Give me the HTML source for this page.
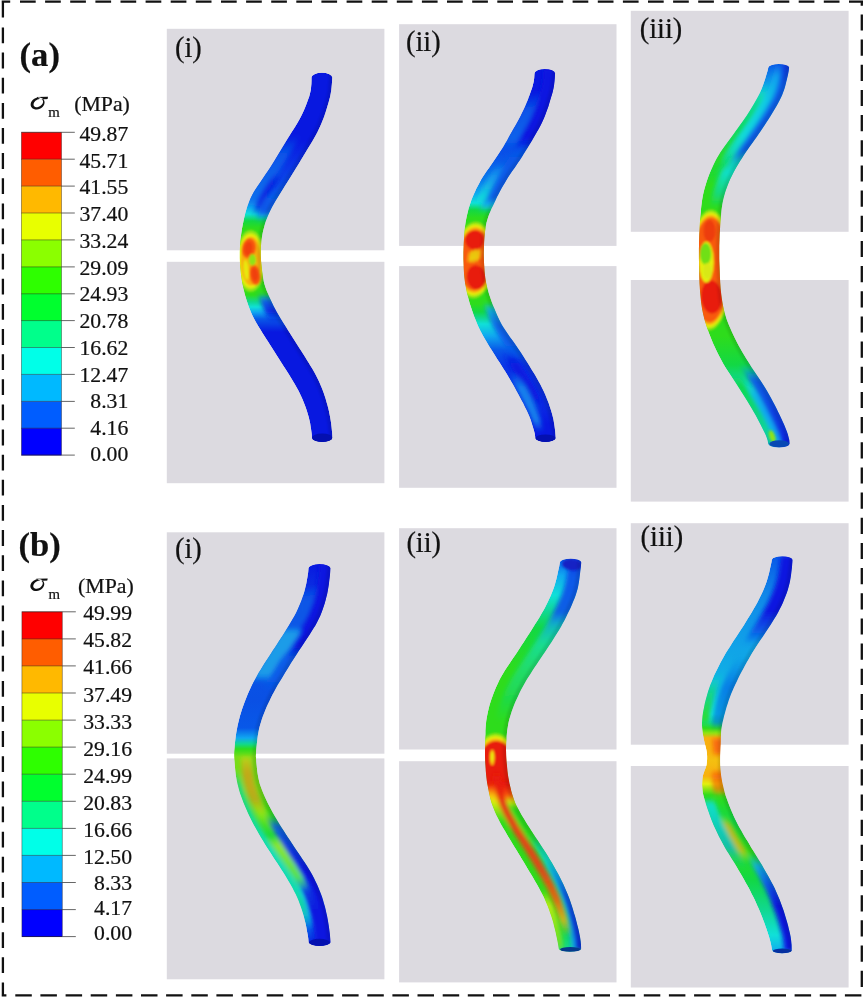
<!DOCTYPE html>
<html><head><meta charset="utf-8"><title>figure</title>
<style>html,body{margin:0;padding:0;background:#fff}svg{display:block}.s{font-family:"Liberation Serif",serif;fill:#111;stroke:#111;stroke-width:.22px}</style></head><body>
<svg width="866" height="997" viewBox="0 0 866 997">
<defs><filter id="bl" x="-20%" y="-5%" width="140%" height="110%"><feGaussianBlur stdDeviation="1.2"/></filter><filter id="bl2" x="-20%" y="-5%" width="140%" height="110%"><feGaussianBlur stdDeviation="2"/></filter>
<clipPath id="c_ai"><path d="M311.5 77.4 L311.5 80.5 L311.4 83.8 L311.1 87.1 L310.8 90 L310.1 93.1 L309.3 96.2 L308.3 99.1 L307.2 102 L306.1 105 L304.9 108 L303.6 111 L302.2 114 L300.7 117 L299.1 120 L297.4 123 L295.6 126 L293.7 129 L291.7 132 L289.9 135 L288 138 L286.2 141 L284.4 144 L282.6 147 L280.8 150 L279 153 L277.2 156 L275.4 159 L273.6 162 L271.7 165 L269.8 168 L267.8 171 L265.7 174 L263.7 177 L261.7 180 L259.7 183 L257.6 186 L255.6 189 L253.7 192 L252.1 195 L250.6 198 L249.4 201 L248.2 204 L247.1 207 L246.2 210 L245.3 213 L244.6 216 L243.9 219 L243.3 222 L242.7 225 L242.1 228 L241.6 231 L241.2 234 L240.8 237 L240.5 240 L240.2 243 L240 246 L239.9 249 L239.8 252 L239.8 255 L239.8 258 L239.9 261 L240 264 L240.2 267 L240.5 270 L240.8 273 L241.2 276 L241.6 279 L242.1 282 L242.7 285 L243.3 288 L244 291 L244.7 294 L245.6 297 L246.5 300 L247.5 303 L248.5 306 L249.7 309 L250.9 312 L252.2 315 L253.7 318 L255.3 321 L257 324 L258.8 327 L260.7 330 L262.5 333 L264.4 336 L266.3 339 L268.3 342 L270.2 345 L272.1 348 L274 351 L275.9 354 L277.8 357 L279.7 360 L281.6 363 L283.5 366 L285.5 369 L287.4 372 L289.3 375 L291.1 378 L292.9 381 L294.7 384 L296.4 387 L298.1 390 L299.6 393 L301 396 L302.4 399 L303.6 402 L304.8 405 L305.9 408 L306.9 411 L307.8 414 L308.7 417 L309.4 420 L310.1 423.1 L310.6 426.4 L311.1 429.6 L311.5 432.5 L311.8 435 L311.9 437.7 A10.2 4.3 0 0 0 332.4 437.7 L332.3 435 L332.1 432.5 L331.8 429.6 L331.5 426.4 L331.1 423.1 L330.6 420 L330.1 417 L329.5 414 L328.9 411 L328.2 408 L327.4 405 L326.5 402 L325.7 399 L324.7 396 L323.7 393 L322.6 390 L321.4 387 L320.1 384 L318.8 381 L317.3 378 L315.8 375 L314.2 372 L312.5 369 L310.6 366 L308.8 363 L306.9 360 L305.1 357 L303.2 354 L301.3 351 L299.3 348 L297.4 345 L295.5 342 L293.6 339 L291.7 336 L289.8 333 L287.9 330 L286.1 327 L284.2 324 L282.3 321 L280.4 318 L278.6 315 L276.8 312 L275.2 309 L273.6 306 L272.2 303 L270.8 300 L269.4 297 L268.1 294 L266.8 291 L265.7 288 L264.7 285 L263.9 282 L263.3 279 L262.8 276 L262.4 273 L262 270 L261.7 267 L261.4 264 L261.1 261 L260.9 258 L260.8 255 L260.8 252 L260.8 249 L261 246 L261.2 243 L261.5 240 L262 237 L262.5 234 L263.1 231 L263.9 228 L264.7 225 L265.6 222 L266.7 219 L267.9 216 L269.2 213 L270.6 210 L272.1 207 L273.8 204 L275.5 201 L277.4 198 L279.3 195 L281.2 192 L283.1 189 L284.9 186 L286.8 183 L288.7 180 L290.6 177 L292.4 174 L294.3 171 L296.1 168 L298 165 L299.8 162 L301.6 159 L303.4 156 L305.2 153 L307 150 L308.8 147 L310.7 144 L312.5 141 L314.2 138 L315.9 135 L317.5 132 L318.9 129 L320.3 126 L321.6 123 L322.8 120 L324 117 L325 114 L326 111 L326.9 108 L327.8 105 L328.7 102 L329.5 99.1 L330.2 96.2 L330.8 93.1 L331.3 90 L331.6 87.1 L331.9 83.8 L332.1 80.5 L332.3 77.4 A10.4 4.6 0 0 0 311.5 77.4 Z"/></clipPath>
<linearGradient id="g1" gradientUnits="userSpaceOnUse" x1="0" y1="72.8" x2="0" y2="442"><stop offset="0.0000" stop-color="#0818e0"/><stop offset="0.1820" stop-color="#0818e0"/><stop offset="0.2497" stop-color="#0a34e6"/><stop offset="0.3310" stop-color="#0858e8"/><stop offset="0.3635" stop-color="#10a8f0"/><stop offset="0.3824" stop-color="#10e0d8"/><stop offset="0.4014" stop-color="#12d844"/><stop offset="0.4204" stop-color="#2edc1c"/><stop offset="0.6018" stop-color="#2edc1c"/><stop offset="0.6208" stop-color="#10d890"/><stop offset="0.6343" stop-color="#10e0d8"/><stop offset="0.6479" stop-color="#10a8f0"/><stop offset="0.6668" stop-color="#0858e8"/><stop offset="0.7021" stop-color="#0818e0"/><stop offset="1.0000" stop-color="#0818e0"/></linearGradient>
<linearGradient id="g2" gradientUnits="userSpaceOnUse" x1="0" y1="135" x2="0" y2="210"><stop offset="0.0000" stop-color="#0858e8" stop-opacity="0"/><stop offset="0.2667" stop-color="#0858e8" stop-opacity="0.95"/><stop offset="0.8667" stop-color="#0a70ec" stop-opacity="0.95"/><stop offset="1.0000" stop-color="#10a8f0" stop-opacity="0"/></linearGradient>
<linearGradient id="g3" gradientUnits="userSpaceOnUse" x1="0" y1="172" x2="0" y2="216"><stop offset="0.0000" stop-color="#0818e0" stop-opacity="0"/><stop offset="0.2273" stop-color="#0818e0" stop-opacity="0.8"/><stop offset="0.7727" stop-color="#0818e0" stop-opacity="0.8"/><stop offset="1.0000" stop-color="#0818e0" stop-opacity="0"/></linearGradient>
<linearGradient id="g4" gradientUnits="userSpaceOnUse" x1="0" y1="192" x2="0" y2="222"><stop offset="0.0000" stop-color="#0858e8" stop-opacity="0"/><stop offset="0.2667" stop-color="#0858e8"/><stop offset="0.6667" stop-color="#0858e8"/><stop offset="1.0000" stop-color="#10a8f0" stop-opacity="0"/></linearGradient>
<linearGradient id="g5" gradientUnits="userSpaceOnUse" x1="0" y1="292" x2="0" y2="322"><stop offset="0.0000" stop-color="#10a8f0" stop-opacity="0"/><stop offset="0.3000" stop-color="#0858e8" stop-opacity="0.95"/><stop offset="0.6667" stop-color="#0818e0" stop-opacity="0.95"/><stop offset="1.0000" stop-color="#0818e0" stop-opacity="0"/></linearGradient>
<clipPath id="c_aii"><path d="M534.5 73.4 L534.4 74.8 L534.2 78 L533.7 81.6 L532.9 85 L531.9 88.4 L530.6 92 L529.8 94.5 L528.8 97.1 L527.8 100 L526.5 103.1 L525.1 106.4 L523.5 110 L522 113.1 L520.3 116.4 L518.6 119.8 L516.8 123 L515.1 126.1 L513.3 129.1 L511.6 132.1 L509.9 135 L508.4 137.8 L507 140.4 L505.4 143.1 L503.7 146 L502.1 148.5 L500.4 151.1 L498.6 153.8 L496.6 156.8 L494.4 160 L492.7 162.5 L490.8 165.3 L488.8 168.2 L486.7 171.1 L484.7 174.1 L482.7 177.1 L480.9 180 L479.4 182.9 L477.9 185.7 L476.4 188.6 L475.1 191.4 L473.8 194.3 L472.6 197.1 L471.4 200 L470.4 202.9 L469.5 205.7 L468.6 208.6 L467.9 211.4 L467.2 214.3 L466.6 217.1 L466 220 L465.5 222.8 L465.1 225.7 L464.8 228.5 L464.5 231.3 L464.3 234.1 L464.1 237 L463.9 240 L463.7 243 L463.6 246.1 L463.5 249.3 L463.4 252.5 L463.4 255.7 L463.4 258.8 L463.5 262 L463.6 265.1 L463.7 268.3 L463.9 271.4 L464.1 274.6 L464.4 277.7 L464.8 280.9 L465.2 284 L465.8 287.1 L466.4 290.3 L467.1 293.4 L467.9 296.6 L468.7 299.7 L469.6 302.9 L470.6 306 L471.6 309.1 L472.7 312.3 L473.8 315.4 L475 318.6 L476.3 321.7 L477.6 324.9 L479 328 L480.5 331.1 L482.2 334.3 L484 337.4 L485.8 340.6 L487.7 343.7 L489.6 346.9 L491.6 350 L493.5 353.1 L495.5 356.3 L497.5 359.4 L499.6 362.6 L501.6 365.7 L503.6 368.9 L505.6 372 L507.4 375.1 L509.3 378.3 L511.2 381.4 L513 384.6 L514.8 387.7 L516.5 390.9 L518.2 394 L519.9 397.2 L521.6 400.4 L523.3 403.6 L524.9 406.9 L526.5 410 L527.9 413.1 L529.2 416 L530.5 419.3 L531.6 422.7 L532.6 425.9 L533.5 428.9 L534.2 431.6 L534.8 434 L535.3 438 A10.2 4 0 0 0 555.7 438 L555.4 434 L555.2 431.6 L554.9 428.9 L554.5 425.9 L554 422.7 L553.4 419.3 L552.6 416 L551.8 413.1 L550.9 410 L549.9 406.9 L548.8 403.6 L547.6 400.4 L546.3 397.2 L545 394 L543.6 390.9 L542 387.7 L540.4 384.6 L538.7 381.4 L536.9 378.3 L535.1 375.1 L533.2 372 L531.3 368.9 L529.4 365.7 L527.4 362.6 L525.4 359.4 L523.4 356.3 L521.3 353.1 L519.2 350 L517.1 346.9 L514.9 343.7 L512.6 340.6 L510.3 337.4 L508.1 334.3 L505.9 331.1 L503.9 328 L502 324.9 L500.3 321.7 L498.7 318.6 L497.3 315.4 L495.9 312.3 L494.6 309.1 L493.3 306 L492.1 302.9 L491 299.7 L489.9 296.6 L488.9 293.4 L488 290.3 L487.1 287.1 L486.4 284 L485.8 280.9 L485.3 277.7 L484.9 274.6 L484.6 271.4 L484.4 268.3 L484.2 265.1 L484 262 L483.9 258.8 L483.8 255.7 L483.8 252.5 L483.9 249.3 L484 246.1 L484.1 243 L484.3 240 L484.5 237 L484.8 234.1 L485.1 231.3 L485.5 228.5 L485.9 225.7 L486.5 222.8 L487.3 220 L488.2 217.1 L489.2 214.3 L490.4 211.4 L491.6 208.6 L493 205.7 L494.3 202.9 L495.7 200 L497 197.1 L498.5 194.3 L499.9 191.4 L501.5 188.6 L503.1 185.7 L504.8 182.9 L506.5 180 L508.3 177.1 L510.3 174.1 L512.3 171.1 L514.4 168.2 L516.4 165.3 L518.2 162.5 L520 160 L522.1 156.8 L523.9 153.8 L525.7 151.1 L527.3 148.5 L528.8 146 L530.6 143.1 L532.1 140.4 L533.6 137.8 L535.2 135 L536.9 132.1 L538.7 129.1 L540.3 126.1 L541.8 123 L543.3 119.8 L544.7 116.4 L546 113.1 L547.1 110 L548.4 106.4 L549.4 103.1 L550.3 100 L551.2 97.1 L552 94.5 L552.7 92 L553.5 88.4 L554.1 85 L554.5 81.6 L554.8 78 L555 74.8 L555.1 73.4 A10.3 4.4 0 0 0 534.5 73.4 Z"/></clipPath>
<linearGradient id="g6" gradientUnits="userSpaceOnUse" x1="0" y1="69" x2="0" y2="442"><stop offset="0.0000" stop-color="#0818e0"/><stop offset="0.1153" stop-color="#0818e0"/><stop offset="0.1769" stop-color="#0a3ce6"/><stop offset="0.2440" stop-color="#0858e8"/><stop offset="0.2976" stop-color="#0a78ec"/><stop offset="0.3351" stop-color="#10a8f0"/><stop offset="0.3592" stop-color="#10e0d8"/><stop offset="0.3780" stop-color="#12d844"/><stop offset="0.3995" stop-color="#2edc1c"/><stop offset="0.6300" stop-color="#2edc1c"/><stop offset="0.6515" stop-color="#12d844"/><stop offset="0.6676" stop-color="#10d890"/><stop offset="0.6836" stop-color="#10e0d8"/><stop offset="0.7158" stop-color="#10a8f0"/><stop offset="0.7534" stop-color="#0858e8"/><stop offset="0.7962" stop-color="#0a34e6"/><stop offset="0.9008" stop-color="#0a2ce4"/><stop offset="0.9517" stop-color="#0818e0"/><stop offset="1.0000" stop-color="#0818e0"/></linearGradient>
<linearGradient id="g7" gradientUnits="userSpaceOnUse" x1="0" y1="69" x2="0" y2="150"><stop offset="0.0000" stop-color="#0818e0"/><stop offset="0.8519" stop-color="#0818e0"/><stop offset="1.0000" stop-color="#0818e0" stop-opacity="0"/></linearGradient>
<linearGradient id="g8" gradientUnits="userSpaceOnUse" x1="0" y1="92" x2="0" y2="152"><stop offset="0.0000" stop-color="#0858e8" stop-opacity="0"/><stop offset="0.3000" stop-color="#0858e8" stop-opacity="0.95"/><stop offset="0.8000" stop-color="#0a64ea" stop-opacity="0.95"/><stop offset="1.0000" stop-color="#0858e8" stop-opacity="0"/></linearGradient>
<linearGradient id="g9" gradientUnits="userSpaceOnUse" x1="0" y1="146" x2="0" y2="214"><stop offset="0.0000" stop-color="#0858e8" stop-opacity="0"/><stop offset="0.1765" stop-color="#0858e8" stop-opacity="0.9"/><stop offset="0.7647" stop-color="#0858e8" stop-opacity="0.9"/><stop offset="0.8824" stop-color="#10a8f0" stop-opacity="0.7"/><stop offset="1.0000" stop-color="#10e0d8" stop-opacity="0"/></linearGradient>
<linearGradient id="g10" gradientUnits="userSpaceOnUse" x1="0" y1="164" x2="0" y2="206"><stop offset="0.0000" stop-color="#10a8f0" stop-opacity="0"/><stop offset="0.3333" stop-color="#18a0ee" stop-opacity="0.85"/><stop offset="0.8095" stop-color="#10e0d8" stop-opacity="0.85"/><stop offset="1.0000" stop-color="#10e0d8" stop-opacity="0"/></linearGradient>
<linearGradient id="g11" gradientUnits="userSpaceOnUse" x1="0" y1="300" x2="0" y2="358"><stop offset="0.0000" stop-color="#10d890" stop-opacity="0"/><stop offset="0.1724" stop-color="#10a8f0" stop-opacity="0.9"/><stop offset="0.4310" stop-color="#0858e8" stop-opacity="0.9"/><stop offset="0.7759" stop-color="#0858e8" stop-opacity="0.9"/><stop offset="1.0000" stop-color="#0858e8" stop-opacity="0"/></linearGradient>
<linearGradient id="g12" gradientUnits="userSpaceOnUse" x1="0" y1="352" x2="0" y2="410"><stop offset="0.0000" stop-color="#0818e0" stop-opacity="0"/><stop offset="0.2069" stop-color="#0818e0" stop-opacity="0.9"/><stop offset="0.7931" stop-color="#0818e0" stop-opacity="0.9"/><stop offset="1.0000" stop-color="#0818e0" stop-opacity="0"/></linearGradient>
<linearGradient id="g13" gradientUnits="userSpaceOnUse" x1="0" y1="374" x2="0" y2="432"><stop offset="0.0000" stop-color="#10a8f0" stop-opacity="0"/><stop offset="0.2414" stop-color="#1890ee" stop-opacity="0.85"/><stop offset="0.7931" stop-color="#1890ee" stop-opacity="0.85"/><stop offset="1.0000" stop-color="#10a8f0" stop-opacity="0"/></linearGradient>
<clipPath id="c_aiii"><path d="M768.4 67.3 L767.5 71 L766.8 73.3 L766 76 L765.1 79 L764 82.3 L762.9 85.6 L761.6 88.9 L760.3 92 L758.8 95 L757.2 98 L755.5 101 L753.8 104 L752 107 L750.2 110 L748.3 113 L746.4 116 L744.3 119 L742.2 122 L740 125 L737.9 128 L735.7 131 L733.6 134 L731.4 137 L729.2 140 L727 143 L724.8 146 L722.7 149 L720.6 152 L718.8 155 L717 158 L715.4 161 L713.9 164 L712.5 167 L711.1 170 L709.8 173 L708.6 176 L707.5 179 L706.5 182 L705.6 185 L704.7 188 L703.9 191 L703.2 194 L702.6 197 L702.1 200 L701.7 203 L701.3 205.9 L701 208.9 L700.8 211.9 L700.5 214.9 L700.3 218 L700 221.1 L699.8 224.2 L699.6 227.4 L699.5 230.5 L699.3 233.7 L699.2 236.8 L699.1 240 L699 243.1 L699 246.1 L698.9 249 L698.9 252 L698.9 255.1 L698.9 258.4 L699 262 L699 264.7 L699.1 267.6 L699.2 270.6 L699.2 273.7 L699.3 276.9 L699.4 280 L699.5 283.2 L699.7 286.3 L699.9 289.2 L700.1 292 L700.4 295.3 L700.7 298.4 L701 301.4 L701.4 304.4 L701.8 307.3 L702.3 310.1 L702.9 313 L703.6 316 L704.3 319 L705.2 322 L706.1 325 L707.1 328 L708.2 331 L709.3 334 L710.5 337 L711.7 340 L712.9 343 L714.3 346 L715.7 349 L717.1 352 L718.6 355 L720.2 358 L721.8 361 L723.4 364 L725.2 367 L727.1 370 L729.1 373 L731.1 376 L733.1 379 L735.1 382 L737.1 385 L739 388 L740.9 391 L742.8 394 L744.7 397 L746.6 400 L748.4 403 L750.2 406 L752 409 L753.7 412 L755.5 415.1 L757.2 418.3 L758.9 421.5 L760.6 424.8 L762.2 427.9 L763.7 430.9 L765 433.6 L766.1 436 L767.5 440 L768.2 443.7 A10.7 3.8 0 0 0 789.6 443.7 L789.3 440 L788.3 436 L787.6 433.6 L786.7 430.9 L785.5 427.9 L784.2 424.8 L782.7 421.5 L781.2 418.3 L779.7 415.1 L778.2 412 L776.8 409 L775.3 406 L773.7 403 L772.1 400 L770.5 397 L768.8 394 L767.1 391 L765.3 388 L763.4 385 L761.5 382 L759.5 379 L757.5 376 L755.5 373 L753.5 370 L751.5 367 L749.7 364 L747.8 361 L745.9 358 L744.1 355 L742.3 352 L740.6 349 L738.9 346 L737.3 343 L735.8 340 L734.3 337 L732.9 334 L731.5 331 L730.2 328 L728.9 325 L727.7 322 L726.6 319 L725.7 316 L724.8 313 L724 310.1 L723.4 307.3 L722.8 304.4 L722.3 301.4 L721.8 298.4 L721.4 295.3 L721 292 L720.7 289.2 L720.5 286.3 L720.3 283.2 L720.1 280 L719.9 276.9 L719.8 273.7 L719.7 270.6 L719.6 267.6 L719.5 264.7 L719.4 262 L719.3 258.4 L719.3 255.1 L719.3 252 L719.3 249 L719.3 246.1 L719.4 243.1 L719.5 240 L719.6 236.8 L719.7 233.7 L719.9 230.5 L720.1 227.4 L720.3 224.2 L720.5 221.1 L720.8 218 L721.1 214.9 L721.4 211.9 L721.7 208.9 L722.1 205.9 L722.6 203 L723.2 200 L723.9 197 L724.7 194 L725.6 191 L726.7 188 L727.8 185 L729 182 L730.3 179 L731.8 176 L733.3 173 L734.9 170 L736.6 167 L738.4 164 L740.2 161 L742.2 158 L744 155 L746 152 L748.1 149 L750.2 146 L752.4 143 L754.5 140 L756.7 137 L758.7 134 L760.8 131 L762.8 128 L764.8 125 L766.7 122 L768.7 119 L770.6 116 L772.4 113 L774.2 110 L776 107 L777.7 104 L779.3 101 L780.8 98 L782.2 95 L783.3 92 L784.4 88.9 L785.4 85.6 L786.2 82.3 L787 79 L787.7 76 L788.3 73.3 L788.7 71 L789.1 67.3 A10.4 3.6 0 0 0 768.4 67.3 Z"/></clipPath>
<linearGradient id="g14" gradientUnits="userSpaceOnUse" x1="0" y1="63.7" x2="0" y2="447.5"><stop offset="0.0000" stop-color="#0858e8"/><stop offset="0.0425" stop-color="#1090e8"/><stop offset="0.0946" stop-color="#10e0d8"/><stop offset="0.1858" stop-color="#10e0d8"/><stop offset="0.2249" stop-color="#10d890"/><stop offset="0.2639" stop-color="#12d844"/><stop offset="0.3161" stop-color="#2edc1c"/><stop offset="0.7095" stop-color="#2edc1c"/><stop offset="0.7850" stop-color="#12d844"/><stop offset="0.8241" stop-color="#10d890"/><stop offset="0.8632" stop-color="#10e0d8"/><stop offset="0.9075" stop-color="#10a8f0"/><stop offset="0.9596" stop-color="#10a8f0"/><stop offset="0.9987" stop-color="#0858e8"/></linearGradient>
<linearGradient id="g15" gradientUnits="userSpaceOnUse" x1="0" y1="63" x2="0" y2="176"><stop offset="0.0000" stop-color="#0a30d8" stop-opacity="0.95"/><stop offset="0.1947" stop-color="#0858e8" stop-opacity="0.95"/><stop offset="0.7699" stop-color="#0858e8" stop-opacity="0.95"/><stop offset="0.8938" stop-color="#10a8f0" stop-opacity="0.6"/><stop offset="1.0000" stop-color="#10a8f0" stop-opacity="0"/></linearGradient>
<linearGradient id="g16" gradientUnits="userSpaceOnUse" x1="0" y1="64" x2="0" y2="164"><stop offset="0.0000" stop-color="#0858e8" stop-opacity="0.8"/><stop offset="0.1200" stop-color="#10a8f0" stop-opacity="0.8"/><stop offset="0.3600" stop-color="#10c0e8" stop-opacity="0.8"/><stop offset="0.8600" stop-color="#10e0d8" stop-opacity="0.6"/><stop offset="1.0000" stop-color="#10e0d8" stop-opacity="0"/></linearGradient>
<linearGradient id="g17" gradientUnits="userSpaceOnUse" x1="0" y1="84" x2="0" y2="175"><stop offset="0.0000" stop-color="#10e0d8" stop-opacity="0"/><stop offset="0.1758" stop-color="#10d890" stop-opacity="0.9"/><stop offset="0.5055" stop-color="#12d844" stop-opacity="0.9"/><stop offset="0.8352" stop-color="#2edc1c" stop-opacity="0.9"/><stop offset="1.0000" stop-color="#2edc1c" stop-opacity="0"/></linearGradient>
<linearGradient id="g18" gradientUnits="userSpaceOnUse" x1="0" y1="156" x2="0" y2="208"><stop offset="0.0000" stop-color="#10e0d8" stop-opacity="0"/><stop offset="0.3077" stop-color="#10e0d8" stop-opacity="0.9"/><stop offset="0.7308" stop-color="#10d890" stop-opacity="0.8"/><stop offset="1.0000" stop-color="#10d890" stop-opacity="0"/></linearGradient>
<linearGradient id="g19" gradientUnits="userSpaceOnUse" x1="0" y1="364" x2="0" y2="447"><stop offset="0.0000" stop-color="#10a8f0" stop-opacity="0"/><stop offset="0.1928" stop-color="#0858e8" stop-opacity="0.95"/><stop offset="0.6747" stop-color="#0a34e0" stop-opacity="0.95"/><stop offset="1.0000" stop-color="#0818e0" stop-opacity="0.95"/></linearGradient>
<linearGradient id="g20" gradientUnits="userSpaceOnUse" x1="0" y1="374" x2="0" y2="447"><stop offset="0.0000" stop-color="#12d844" stop-opacity="0"/><stop offset="0.1644" stop-color="#12d844" stop-opacity="0.95"/><stop offset="0.7671" stop-color="#10d890" stop-opacity="0.95"/><stop offset="0.9041" stop-color="#10d890" stop-opacity="0.9"/><stop offset="1.0000" stop-color="#10d890" stop-opacity="0.6"/></linearGradient>
<linearGradient id="g21" gradientUnits="userSpaceOnUse" x1="0" y1="380" x2="0" y2="447"><stop offset="0.0000" stop-color="#10e0d8" stop-opacity="0"/><stop offset="0.2239" stop-color="#10a8f0" stop-opacity="0.8"/><stop offset="0.8209" stop-color="#10a8f0" stop-opacity="0.8"/><stop offset="1.0000" stop-color="#10e0d8" stop-opacity="0.5"/></linearGradient>
<clipPath id="c_bi"><path d="M308.5 568.1 L308.2 572 L307.8 574.4 L307.4 577.3 L306.8 580.5 L306.2 583.9 L305.4 587.3 L304.6 590.7 L303.7 594 L302.6 597.1 L301.5 600.3 L300.2 603.4 L298.9 606.6 L297.5 609.7 L296 612.9 L294.4 616 L292.6 619.1 L290.7 622.3 L288.8 625.4 L286.9 628.6 L284.9 631.7 L282.9 634.9 L280.9 638 L278.9 641.1 L276.9 644.3 L274.8 647.4 L272.7 650.6 L270.7 653.7 L268.6 656.9 L266.6 660 L264.6 663.1 L262.6 666.3 L260.7 669.4 L258.7 672.6 L256.9 675.7 L255.1 678.9 L253.4 682 L251.9 685.1 L250.4 688.3 L248.9 691.4 L247.6 694.6 L246.3 697.7 L245 700.9 L243.9 704 L242.8 707.1 L241.7 710.3 L240.7 713.4 L239.8 716.6 L239 719.7 L238.2 722.9 L237.5 726 L236.9 729.2 L236.3 732.5 L235.8 735.8 L235.4 739.1 L235 742.3 L234.7 745.3 L234.5 748 L234.2 751.2 L234.1 753.8 L234.1 756.2 L234.2 758.8 L234.5 762 L234.7 764.7 L235 767.7 L235.3 770.9 L235.7 774.2 L236.2 777.5 L236.8 780.8 L237.5 784 L238.3 787.1 L239.1 790.3 L240.1 793.4 L241.2 796.6 L242.4 799.7 L243.6 802.9 L244.9 806 L246.2 809.1 L247.6 812.3 L249.1 815.4 L250.6 818.6 L252.2 821.7 L253.9 824.9 L255.6 828 L257.3 831.1 L259.1 834.3 L261 837.4 L262.9 840.6 L264.8 843.7 L266.8 846.9 L268.8 850 L270.8 853.1 L272.8 856.3 L274.9 859.4 L277 862.6 L279.1 865.7 L281.1 868.9 L283.1 872 L285 875.1 L286.9 878.3 L288.8 881.4 L290.6 884.6 L292.4 887.7 L294 890.9 L295.6 894 L297 897.1 L298.4 900.3 L299.6 903.4 L300.7 906.6 L301.8 909.7 L302.8 912.9 L303.7 916 L304.5 919.3 L305.4 922.7 L306.1 926.1 L306.7 929.5 L307.3 932.7 L307.8 935.6 L308.2 938 L308.6 942.5 A11 3.8 0 0 0 330.5 942.5 L330.2 938 L330 935.6 L329.7 932.7 L329.3 929.5 L328.8 926.1 L328.3 922.7 L327.7 919.3 L327.1 916 L326.4 912.9 L325.7 909.7 L324.9 906.6 L324 903.4 L323.1 900.3 L322.1 897.1 L321 894 L319.8 890.9 L318.5 887.7 L317.1 884.6 L315.6 881.4 L314.1 878.3 L312.4 875.1 L310.7 872 L308.9 868.9 L306.9 865.7 L304.8 862.6 L302.7 859.4 L300.6 856.3 L298.4 853.1 L296.3 850 L294.3 846.9 L292.2 843.7 L290.1 840.6 L288 837.4 L285.9 834.3 L283.9 831.1 L281.9 828 L280 824.9 L278.1 821.7 L276.2 818.6 L274.4 815.4 L272.6 812.3 L270.9 809.1 L269.3 806 L267.7 802.9 L266.2 799.7 L264.7 796.6 L263.4 793.4 L262.1 790.3 L260.9 787.1 L259.8 784 L259 780.8 L258.3 777.5 L257.7 774.2 L257.2 770.9 L256.9 767.7 L256.6 764.7 L256.3 762 L256.1 758.8 L255.9 756.2 L256 753.8 L256.1 751.2 L256.4 748 L256.7 745.3 L257 742.3 L257.4 739.1 L257.8 735.8 L258.4 732.5 L259 729.2 L259.8 726 L260.7 722.9 L261.7 719.7 L262.8 716.6 L264 713.4 L265.3 710.3 L266.6 707.1 L268 704 L269.5 700.9 L271 697.7 L272.6 694.6 L274.3 691.4 L276 688.3 L277.7 685.1 L279.5 682 L281.4 678.9 L283.3 675.7 L285.2 672.6 L287.1 669.4 L289.1 666.3 L291 663.1 L293 660 L295 656.9 L297.1 653.7 L299.1 650.6 L301.2 647.4 L303.3 644.3 L305.4 641.1 L307.4 638 L309.4 634.9 L311.4 631.7 L313.4 628.6 L315.4 625.4 L317.1 622.3 L318.7 619.1 L320.2 616 L321.4 612.9 L322.6 609.7 L323.7 606.6 L324.7 603.4 L325.6 600.3 L326.4 597.1 L327.2 594 L327.8 590.7 L328.4 587.3 L328.9 583.9 L329.3 580.5 L329.7 577.3 L330 574.4 L330.2 572 L330.4 568.1 A11 4.4 0 0 0 308.5 568.1 Z"/></clipPath>
<linearGradient id="g22" gradientUnits="userSpaceOnUse" x1="0" y1="563.7" x2="0" y2="946.3"><stop offset="0.0000" stop-color="#0818e0"/><stop offset="0.0687" stop-color="#0a30e2"/><stop offset="0.1602" stop-color="#0858e8"/><stop offset="0.3562" stop-color="#0a50e4"/><stop offset="0.4294" stop-color="#0858e8"/><stop offset="0.4556" stop-color="#10a8f0"/><stop offset="0.4712" stop-color="#10d890"/><stop offset="0.4843" stop-color="#2edc1c"/><stop offset="0.5052" stop-color="#78dc18"/><stop offset="0.5915" stop-color="#70dc18"/><stop offset="0.6568" stop-color="#2edc1c"/><stop offset="0.7352" stop-color="#12d844"/><stop offset="0.8006" stop-color="#10d890"/><stop offset="0.8659" stop-color="#10e0d8"/><stop offset="0.9182" stop-color="#10a8f0"/><stop offset="0.9574" stop-color="#0858e8"/><stop offset="0.9992" stop-color="#0818e0"/></linearGradient>
<linearGradient id="g23" gradientUnits="userSpaceOnUse" x1="0" y1="563" x2="0" y2="662"><stop offset="0.0000" stop-color="#0818e0"/><stop offset="0.8283" stop-color="#0818e0"/><stop offset="1.0000" stop-color="#0818e0" stop-opacity="0"/></linearGradient>
<linearGradient id="g24" gradientUnits="userSpaceOnUse" x1="0" y1="585" x2="0" y2="634"><stop offset="0.0000" stop-color="#0858e8" stop-opacity="0"/><stop offset="0.3061" stop-color="#0a58e6" stop-opacity="0.95"/><stop offset="0.8776" stop-color="#0a58e6" stop-opacity="0.95"/><stop offset="1.0000" stop-color="#10a8f0" stop-opacity="0"/></linearGradient>
<linearGradient id="g25" gradientUnits="userSpaceOnUse" x1="0" y1="626" x2="0" y2="682"><stop offset="0.0000" stop-color="#10a8f0" stop-opacity="0"/><stop offset="0.1429" stop-color="#20a0e8" stop-opacity="0.95"/><stop offset="0.8571" stop-color="#20a0e8" stop-opacity="0.95"/><stop offset="1.0000" stop-color="#10a8f0" stop-opacity="0"/></linearGradient>
<linearGradient id="g26" gradientUnits="userSpaceOnUse" x1="0" y1="650" x2="0" y2="690"><stop offset="0.0000" stop-color="#0858e8" stop-opacity="0"/><stop offset="0.2500" stop-color="#0a5ce8" stop-opacity="0.9"/><stop offset="0.7500" stop-color="#0a5ce8" stop-opacity="0.9"/><stop offset="1.0000" stop-color="#0858e8" stop-opacity="0"/></linearGradient>
<linearGradient id="g27" gradientUnits="userSpaceOnUse" x1="0" y1="754" x2="0" y2="835"><stop offset="0.0000" stop-color="#e4f010" stop-opacity="0"/><stop offset="0.0741" stop-color="#c8c818" stop-opacity="0.8"/><stop offset="0.2222" stop-color="#d0a018" stop-opacity="0.85"/><stop offset="0.5679" stop-color="#d0a018" stop-opacity="0.75"/><stop offset="0.7531" stop-color="#e4f010" stop-opacity="0.5"/><stop offset="1.0000" stop-color="#8ee414" stop-opacity="0"/></linearGradient>
<linearGradient id="g28" gradientUnits="userSpaceOnUse" x1="0" y1="812" x2="0" y2="946"><stop offset="0.0000" stop-color="#12d844" stop-opacity="0"/><stop offset="0.1045" stop-color="#0858e8" stop-opacity="0.9"/><stop offset="0.2836" stop-color="#0a38e2"/><stop offset="0.4328" stop-color="#0818e0"/><stop offset="1.0000" stop-color="#0818e0"/></linearGradient>
<linearGradient id="g29" gradientUnits="userSpaceOnUse" x1="0" y1="876" x2="0" y2="946"><stop offset="0.0000" stop-color="#0858e8" stop-opacity="0"/><stop offset="0.2286" stop-color="#0a30e0" stop-opacity="0.95"/><stop offset="0.4857" stop-color="#0818e0"/><stop offset="1.0000" stop-color="#0818e0"/></linearGradient>
<linearGradient id="g30" gradientUnits="userSpaceOnUse" x1="0" y1="770" x2="0" y2="928"><stop offset="0.0000" stop-color="#10d890" stop-opacity="0"/><stop offset="0.0949" stop-color="#10d890" stop-opacity="0.8"/><stop offset="0.5063" stop-color="#10e0d8" stop-opacity="0.8"/><stop offset="0.8544" stop-color="#10d890" stop-opacity="0.8"/><stop offset="1.0000" stop-color="#10d890" stop-opacity="0"/></linearGradient>
<linearGradient id="g31" gradientUnits="userSpaceOnUse" x1="0" y1="835" x2="0" y2="890"><stop offset="0.0000" stop-color="#e4f010" stop-opacity="0"/><stop offset="0.1818" stop-color="#e4f010" stop-opacity="0.6"/><stop offset="0.7273" stop-color="#8ee414" stop-opacity="0.6"/><stop offset="1.0000" stop-color="#8ee414" stop-opacity="0"/></linearGradient>
<clipPath id="c_bii"><path d="M559.9 562.3 L559.8 562.9 L559.1 567 L558.5 569.4 L557.9 572.3 L557.2 575.5 L556.4 578.9 L555.5 582.3 L554.5 585.7 L553.4 589 L552.2 592.1 L550.9 595.3 L549.4 598.4 L548 601.6 L546.4 604.7 L544.8 607.9 L543.1 611 L541.3 614.1 L539.5 617.3 L537.5 620.4 L535.5 623.6 L533.5 626.7 L531.5 629.9 L529.6 633 L527.6 636.1 L525.5 639.3 L523.5 642.4 L521.4 645.6 L519.4 648.7 L517.3 651.9 L515.3 655 L513.2 658.1 L511 661.3 L508.9 664.4 L506.8 667.6 L504.7 670.7 L502.8 673.9 L501 677 L499.4 680.1 L497.9 683.3 L496.4 686.4 L495.1 689.6 L493.8 692.7 L492.6 695.9 L491.5 699 L490.5 702.1 L489.5 705.3 L488.7 708.4 L488 711.6 L487.3 714.7 L486.7 717.9 L486.2 721 L485.9 724.2 L485.6 727.4 L485.4 730.6 L485.4 733.8 L485.3 736.9 L485.3 740 L485.2 743 L485.1 746.3 L485 749.4 L485 752.5 L485 755.6 L485.1 758.7 L485.2 762 L485.4 765 L485.6 768.1 L485.8 771.2 L486.1 774.4 L486.4 777.6 L486.8 780.8 L487.3 784 L487.9 787.1 L488.5 790.3 L489.1 793.4 L489.8 796.6 L490.6 799.7 L491.5 802.9 L492.6 806 L493.8 809.1 L495.1 812.3 L496.6 815.4 L498.2 818.6 L499.8 821.7 L501.5 824.9 L503.2 828 L505 831.1 L506.8 834.3 L508.7 837.4 L510.6 840.6 L512.5 843.7 L514.5 846.9 L516.4 850 L518.2 853.1 L520.2 856.3 L522.1 859.4 L524 862.6 L525.9 865.7 L527.8 868.9 L529.6 872 L531.5 875.1 L533.4 878.3 L535.2 881.4 L537 884.6 L538.8 887.7 L540.5 890.9 L542.1 894 L543.7 897.1 L545.1 900.3 L546.5 903.4 L547.8 906.6 L549 909.7 L550.1 912.9 L551.2 916 L552.2 919.2 L553.2 922.5 L554 925.9 L554.8 929.1 L555.6 932.3 L556.2 935.3 L556.8 938 L557.5 941.5 L558.1 944.8 L558.5 947.7 L558.7 949 A11.2 2.8 0 0 0 581.1 949 L581.1 947.7 L581 944.8 L580.7 941.5 L580.2 938 L579.7 935.3 L579.1 932.3 L578.4 929.1 L577.6 925.9 L576.7 922.5 L575.9 919.2 L575 916 L574 912.9 L573.1 909.7 L572.1 906.6 L571.1 903.4 L570 900.3 L568.8 897.1 L567.6 894 L566.3 890.9 L564.9 887.7 L563.5 884.6 L562 881.4 L560.4 878.3 L558.8 875.1 L557.1 872 L555.4 868.9 L553.6 865.7 L551.8 862.6 L549.9 859.4 L548 856.3 L546 853.1 L544 850 L542 846.9 L539.9 843.7 L537.8 840.6 L535.7 837.4 L533.6 834.3 L531.5 831.1 L529.6 828 L527.6 824.9 L525.6 821.7 L523.7 818.6 L521.8 815.4 L520 812.3 L518.3 809.1 L516.7 806 L515.3 802.9 L514.1 799.7 L513 796.6 L512 793.4 L511.1 790.3 L510.4 787.1 L509.6 784 L509 780.8 L508.4 777.6 L507.9 774.4 L507.5 771.2 L507.2 768.1 L506.9 765 L506.6 762 L506.4 758.7 L506.2 755.6 L506.1 752.5 L506 749.4 L506.1 746.3 L506.2 743 L506.4 740 L506.6 736.9 L506.9 733.8 L507.2 730.6 L507.7 727.4 L508.2 724.2 L508.9 721 L509.7 717.9 L510.7 714.7 L511.7 711.6 L512.8 708.4 L514 705.3 L515.3 702.1 L516.7 699 L518.1 695.9 L519.6 692.7 L521.2 689.6 L522.9 686.4 L524.7 683.3 L526.5 680.1 L528.4 677 L530.4 673.9 L532.4 670.7 L534.5 667.6 L536.6 664.4 L538.7 661.3 L540.9 658.1 L542.9 655 L545 651.9 L547.1 648.7 L549.2 645.6 L551.3 642.4 L553.3 639.3 L555.3 636.1 L557.2 633 L559.1 629.9 L561 626.7 L562.7 623.6 L564.4 620.4 L566 617.3 L567.5 614.1 L569 611 L570.5 607.9 L571.9 604.7 L573.2 601.6 L574.5 598.4 L575.7 595.3 L576.7 592.1 L577.6 589 L578.3 585.7 L578.9 582.3 L579.4 578.9 L579.8 575.5 L580.2 572.3 L580.5 569.4 L580.8 567 L581.2 562.9 L581.2 562.3 A10.6 3.6 0 0 0 559.9 562.3 Z"/></clipPath>
<linearGradient id="g32" gradientUnits="userSpaceOnUse" x1="0" y1="558.7" x2="0" y2="951.8"><stop offset="0.0000" stop-color="#0858e8"/><stop offset="0.0415" stop-color="#10a8f0"/><stop offset="0.0923" stop-color="#10e0d8"/><stop offset="0.1356" stop-color="#10d890"/><stop offset="0.1763" stop-color="#12d844"/><stop offset="0.2831" stop-color="#2edc1c"/><stop offset="0.8809" stop-color="#2edc1c"/><stop offset="0.9445" stop-color="#12d844"/><stop offset="0.9980" stop-color="#10d890"/></linearGradient>
<linearGradient id="g33" gradientUnits="userSpaceOnUse" x1="0" y1="558" x2="0" y2="722"><stop offset="0.0000" stop-color="#0a28d8"/><stop offset="0.1037" stop-color="#0858e8"/><stop offset="0.3293" stop-color="#0858e8" stop-opacity="0.95"/><stop offset="0.4146" stop-color="#10a8f0" stop-opacity="0.7"/><stop offset="0.5305" stop-color="#10e0d8" stop-opacity="0.55"/><stop offset="0.8049" stop-color="#10d890" stop-opacity="0.5"/><stop offset="1.0000" stop-color="#10d890" stop-opacity="0"/></linearGradient>
<linearGradient id="g34" gradientUnits="userSpaceOnUse" x1="0" y1="828" x2="0" y2="951"><stop offset="0.0000" stop-color="#12d844" stop-opacity="0"/><stop offset="0.1138" stop-color="#10d890" stop-opacity="0.9"/><stop offset="0.2439" stop-color="#10e0d8" stop-opacity="0.9"/><stop offset="0.3740" stop-color="#10a8f0"/><stop offset="0.5447" stop-color="#0858e8"/><stop offset="1.0000" stop-color="#0a28d8"/></linearGradient>
<linearGradient id="g35" gradientUnits="userSpaceOnUse" x1="0" y1="856" x2="0" y2="951"><stop offset="0.0000" stop-color="#2edc1c" stop-opacity="0"/><stop offset="0.1263" stop-color="#10d890" stop-opacity="0.8"/><stop offset="0.4632" stop-color="#10e0d8" stop-opacity="0.8"/><stop offset="0.8316" stop-color="#10a8f0" stop-opacity="0.8"/><stop offset="1.0000" stop-color="#10a8f0" stop-opacity="0.8"/></linearGradient>
<linearGradient id="g36" gradientUnits="userSpaceOnUse" x1="0" y1="890" x2="0" y2="951"><stop offset="0.0000" stop-color="#e4f010" stop-opacity="0"/><stop offset="0.2459" stop-color="#e4f010" stop-opacity="0.8"/><stop offset="0.8197" stop-color="#8ee414" stop-opacity="0.8"/><stop offset="1.0000" stop-color="#8ee414" stop-opacity="0.5"/></linearGradient>
<linearGradient id="g37" gradientUnits="userSpaceOnUse" x1="0" y1="782" x2="0" y2="832"><stop offset="0.0000" stop-color="#e81a0e" stop-opacity="0"/><stop offset="0.1200" stop-color="#f85a0a" stop-opacity="0.95"/><stop offset="0.2400" stop-color="#f8b010" stop-opacity="0.95"/><stop offset="0.4000" stop-color="#e4f010" stop-opacity="0.95"/><stop offset="0.6000" stop-color="#8ee414" stop-opacity="0.9"/><stop offset="0.8000" stop-color="#2edc1c" stop-opacity="0.8"/><stop offset="1.0000" stop-color="#2edc1c" stop-opacity="0"/></linearGradient>
<linearGradient id="g38" gradientUnits="userSpaceOnUse" x1="0" y1="770" x2="0" y2="936"><stop offset="0.0000" stop-color="#e81a0e" stop-opacity="0"/><stop offset="0.0723" stop-color="#e81a0e"/><stop offset="0.3614" stop-color="#e84018"/><stop offset="0.6024" stop-color="#e84018" stop-opacity="0.95"/><stop offset="0.7831" stop-color="#f85a0a" stop-opacity="0.9"/><stop offset="0.9036" stop-color="#f8b010" stop-opacity="0.8"/><stop offset="1.0000" stop-color="#f8b010" stop-opacity="0"/></linearGradient>
<linearGradient id="g39" gradientUnits="userSpaceOnUse" x1="0" y1="778" x2="0" y2="848"><stop offset="0.0000" stop-color="#e81a0e" stop-opacity="0"/><stop offset="0.1143" stop-color="#e81a0e"/><stop offset="0.2571" stop-color="#f85a0a"/><stop offset="0.3429" stop-color="#e4f010" stop-opacity="0.9"/><stop offset="0.4286" stop-color="#2edc1c" stop-opacity="0.9"/><stop offset="0.7429" stop-color="#2edc1c" stop-opacity="0.9"/><stop offset="1.0000" stop-color="#2edc1c" stop-opacity="0"/></linearGradient>
<clipPath id="c_biii"><path d="M771.8 559.7 L771.5 562 L771 564.3 L770.4 567.1 L769.7 570.3 L768.9 573.7 L767.9 577.3 L766.9 580.7 L765.8 584 L764.6 587.1 L763.3 590.3 L761.8 593.4 L760.3 596.6 L758.7 599.7 L757.1 602.9 L755.4 606 L753.6 609.1 L751.8 612.3 L749.8 615.4 L747.9 618.6 L745.9 621.7 L744 624.9 L742 628 L740 631.1 L737.9 634.3 L735.8 637.4 L733.7 640.6 L731.7 643.7 L729.7 646.9 L727.7 650 L725.8 653.1 L724 656.3 L722.2 659.4 L720.5 662.6 L718.9 665.7 L717.3 668.9 L715.8 672 L714.3 675.1 L713 678.3 L711.7 681.4 L710.4 684.6 L709.3 687.7 L708.2 690.9 L707.3 694 L706.4 697.2 L705.5 700.5 L704.7 703.8 L704.1 707.1 L703.4 710.3 L702.9 713.3 L702.5 716 L702.2 719.4 L702 722.3 L702 725 L702.1 727.5 L702.3 730 L702.6 732.9 L703.1 735.6 L703.6 738.2 L704.2 741 L704.9 743.9 L705.7 746.9 L706.4 750 L706.9 753 L707.1 756 L707.1 759.1 L706.9 762.1 L706.5 765 L705.7 767.8 L704.6 770.5 L703.6 773.2 L702.8 776 L702.4 779 L702.2 782 L702.1 785 L702.3 788 L702.5 790.5 L702.8 792.8 L703.4 795.4 L704.4 799 L705.1 801.3 L705.9 803.9 L706.8 806.7 L707.8 809.8 L708.9 812.8 L710 816 L711.1 819 L712.3 822 L713.5 824.9 L714.8 827.8 L716.1 830.6 L717.5 833.5 L718.9 836.4 L720.4 839.2 L721.9 842.1 L723.5 845 L725.1 847.9 L726.7 850.8 L728.5 853.6 L730.3 856.5 L732.1 859.4 L733.9 862.2 L735.6 865.1 L737.3 868 L739 870.9 L740.7 873.8 L742.3 876.6 L744 879.5 L745.6 882.4 L747.2 885.2 L748.8 888.1 L750.3 891 L751.7 893.9 L753.2 896.8 L754.6 899.6 L755.9 902.5 L757.2 905.4 L758.5 908.2 L759.7 911.1 L760.9 914 L762.1 916.9 L763.2 919.9 L764.4 922.9 L765.4 925.9 L766.5 928.9 L767.4 931.7 L768.3 934.4 L769.1 937 L770.2 941 L771.1 944.8 L771.7 948.3 L772.2 950.6 A9.8 2.8 0 0 0 791.8 950.6 L791.7 948.3 L791.6 944.8 L791.2 941 L790.7 937 L790.2 934.4 L789.6 931.7 L788.9 928.9 L788.2 925.9 L787.4 922.9 L786.5 919.9 L785.6 916.9 L784.7 914 L783.8 911.1 L782.8 908.2 L781.8 905.4 L780.7 902.5 L779.6 899.6 L778.4 896.8 L777.2 893.9 L775.9 891 L774.6 888.1 L773.2 885.2 L771.7 882.4 L770.1 879.5 L768.5 876.6 L766.9 873.8 L765.3 870.9 L763.6 868 L762 865.1 L760.3 862.2 L758.6 859.4 L756.8 856.5 L755 853.6 L753.3 850.8 L751.5 847.9 L749.8 845 L748.1 842.1 L746.3 839.2 L744.6 836.4 L742.9 833.5 L741.3 830.6 L739.6 827.8 L738.1 824.9 L736.6 822 L735.1 819 L733.7 816 L732.3 812.8 L731 809.8 L729.8 806.7 L728.7 803.9 L727.7 801.3 L726.9 799 L725.6 795.4 L724.8 792.8 L724.2 790.5 L723.6 788 L722.9 785 L722.2 782 L721.7 779 L721.2 776 L720.9 773.2 L720.7 770.5 L720.5 767.8 L720.3 765 L720.2 762.1 L720.2 759.1 L720.2 756 L720.3 753 L720.4 750 L720.5 746.9 L720.7 743.9 L720.8 741 L720.9 738.2 L721 735.6 L721.1 732.9 L721.4 730 L721.7 727.5 L722.1 725 L722.6 722.3 L723.3 719.4 L724.1 716 L724.9 713.3 L725.7 710.3 L726.6 707.1 L727.7 703.8 L728.7 700.5 L729.9 697.2 L731.1 694 L732.4 690.9 L733.8 687.7 L735.3 684.6 L736.8 681.4 L738.3 678.3 L739.9 675.1 L741.5 672 L743.2 668.9 L744.9 665.7 L746.7 662.6 L748.5 659.4 L750.3 656.3 L752.2 653.1 L754.1 650 L756 646.9 L758.1 643.7 L760.2 640.6 L762.3 637.4 L764.4 634.3 L766.5 631.1 L768.5 628 L770.5 624.9 L772.5 621.7 L774.5 618.6 L776.4 615.4 L778.2 612.3 L779.8 609.1 L781.4 606 L782.8 602.9 L784.1 599.7 L785.4 596.6 L786.6 593.4 L787.7 590.3 L788.6 587.1 L789.4 584 L790.1 580.7 L790.7 577.3 L791.2 573.7 L791.6 570.3 L792 567.1 L792.2 564.3 L792.4 562 L792.5 559.7 A10.4 3.8 0 0 0 771.8 559.7 Z"/></clipPath>
<linearGradient id="g40" gradientUnits="userSpaceOnUse" x1="0" y1="555.9" x2="0" y2="953.4"><stop offset="0.0000" stop-color="#0858e8"/><stop offset="0.0984" stop-color="#1088e8"/><stop offset="0.2116" stop-color="#10a0e8"/><stop offset="0.3374" stop-color="#10b4e4"/><stop offset="0.3977" stop-color="#10e0d8"/><stop offset="0.4179" stop-color="#10d890"/><stop offset="0.4330" stop-color="#2edc1c"/><stop offset="0.4455" stop-color="#8ee414"/><stop offset="0.4581" stop-color="#f8b010"/><stop offset="0.4883" stop-color="#f8b010"/><stop offset="0.5135" stop-color="#f4c010"/><stop offset="0.5537" stop-color="#f8b010"/><stop offset="0.5738" stop-color="#e4f010"/><stop offset="0.5864" stop-color="#8ee414"/><stop offset="0.6015" stop-color="#2edc1c"/><stop offset="0.6644" stop-color="#12d844"/><stop offset="0.7399" stop-color="#2edc1c"/><stop offset="0.8153" stop-color="#12d844"/><stop offset="0.8908" stop-color="#10d890"/><stop offset="0.9537" stop-color="#10e0d8"/><stop offset="0.9990" stop-color="#10a8f0"/></linearGradient>
<linearGradient id="g41" gradientUnits="userSpaceOnUse" x1="0" y1="555" x2="0" y2="644"><stop offset="0.0000" stop-color="#0818e0"/><stop offset="0.6404" stop-color="#0818e0"/><stop offset="0.8652" stop-color="#0858e8" stop-opacity="0.9"/><stop offset="1.0000" stop-color="#0858e8" stop-opacity="0"/></linearGradient>
<linearGradient id="g42" gradientUnits="userSpaceOnUse" x1="0" y1="655" x2="0" y2="730"><stop offset="0.0000" stop-color="#0858e8" stop-opacity="0"/><stop offset="0.4000" stop-color="#0858e8" stop-opacity="0.55"/><stop offset="0.8933" stop-color="#0858e8" stop-opacity="0.55"/><stop offset="1.0000" stop-color="#0858e8" stop-opacity="0"/></linearGradient>
<linearGradient id="g43" gradientUnits="userSpaceOnUse" x1="0" y1="672" x2="0" y2="728"><stop offset="0.0000" stop-color="#10e0d8" stop-opacity="0"/><stop offset="0.3214" stop-color="#10d890" stop-opacity="0.9"/><stop offset="0.8214" stop-color="#2edc1c" stop-opacity="0.9"/><stop offset="1.0000" stop-color="#2edc1c" stop-opacity="0"/></linearGradient>
<linearGradient id="g44" gradientUnits="userSpaceOnUse" x1="0" y1="796" x2="0" y2="870"><stop offset="0.0000" stop-color="#10d890" stop-opacity="0"/><stop offset="0.1081" stop-color="#10e0d8" stop-opacity="0.9"/><stop offset="0.7027" stop-color="#10b8c8" stop-opacity="0.8"/><stop offset="1.0000" stop-color="#10d890" stop-opacity="0"/></linearGradient>
<linearGradient id="g45" gradientUnits="userSpaceOnUse" x1="0" y1="815" x2="0" y2="862"><stop offset="0.0000" stop-color="#e4f010" stop-opacity="0"/><stop offset="0.2128" stop-color="#f8b010" stop-opacity="0.7"/><stop offset="0.7447" stop-color="#f8b010" stop-opacity="0.7"/><stop offset="1.0000" stop-color="#e4f010" stop-opacity="0"/></linearGradient>
<linearGradient id="g46" gradientUnits="userSpaceOnUse" x1="0" y1="852" x2="0" y2="953"><stop offset="0.0000" stop-color="#10d890" stop-opacity="0"/><stop offset="0.1386" stop-color="#10a8f0" stop-opacity="0.9"/><stop offset="0.3168" stop-color="#0858e8"/><stop offset="0.5248" stop-color="#0818e0"/><stop offset="1.0000" stop-color="#0818e0"/></linearGradient>
<linearGradient id="g47" gradientUnits="userSpaceOnUse" x1="0" y1="736" x2="0" y2="757"><stop offset="0.0000" stop-color="#f85a0a" stop-opacity="0"/><stop offset="0.1905" stop-color="#f85a0a" stop-opacity="0.8"/><stop offset="0.7619" stop-color="#f85a0a" stop-opacity="0.8"/><stop offset="1.0000" stop-color="#f85a0a" stop-opacity="0"/></linearGradient>
<linearGradient id="g48" gradientUnits="userSpaceOnUse" x1="0" y1="768" x2="0" y2="798"><stop offset="0.0000" stop-color="#f85a0a" stop-opacity="0"/><stop offset="0.2000" stop-color="#f85a0a" stop-opacity="0.7"/><stop offset="0.7333" stop-color="#f85a0a" stop-opacity="0.6"/><stop offset="1.0000" stop-color="#f8b010" stop-opacity="0"/></linearGradient>
</defs>
<rect x="0" y="0" width="866" height="997" fill="#fff"/>
<rect x="166.8" y="28.8" width="217.6" height="221.5" fill="#dcdae0"/>
<rect x="166.8" y="261.8" width="217.6" height="221.4" fill="#dcdae0"/>
<rect x="399.1" y="24.2" width="217.4" height="221.7" fill="#dcdae0"/>
<rect x="399.1" y="266.1" width="217.4" height="221.7" fill="#dcdae0"/>
<rect x="630.8" y="10.8" width="217.8" height="221" fill="#dcdae0"/>
<rect x="630.8" y="280" width="217.8" height="221.6" fill="#dcdae0"/>
<rect x="166.8" y="532.3" width="217.6" height="221.4" fill="#dcdae0"/>
<rect x="166.8" y="758.4" width="217.6" height="220.9" fill="#dcdae0"/>
<rect x="399.1" y="528.2" width="217.4" height="221.3" fill="#dcdae0"/>
<rect x="399.1" y="761.2" width="217.4" height="221.2" fill="#dcdae0"/>
<rect x="630.8" y="523.2" width="217.8" height="221.5" fill="#dcdae0"/>
<rect x="630.8" y="766" width="217.8" height="221.5" fill="#dcdae0"/>
<path d="M1.7 1.7H10.2M20 1.7H35.7M45.1 1.7H60.8M70.2 1.7H85.9M95.4 1.7H111.1M120.5 1.7H136.2M145.6 1.7H161.3M170.7 1.7H186.4M195.8 1.7H211.5M221 1.7H236.7M246.1 1.7H261.8M271.2 1.7H286.9M296.3 1.7H312M321.4 1.7H337.1M346.6 1.7H362.3M371.7 1.7H387.4M396.8 1.7H412.5M421.9 1.7H437.6M447 1.7H462.7M472.2 1.7H487.9M497.3 1.7H513M522.4 1.7H538.1M547.5 1.7H563.2M572.6 1.7H588.3M597.8 1.7H613.5M622.9 1.7H638.6M648 1.7H663.7M673.1 1.7H688.8M698.2 1.7H713.9M723.4 1.7H739.1M748.5 1.7H764.2M773.6 1.7H789.3M798.7 1.7H814.4M823.8 1.7H839.5M849 1.7H863M2.9 0.6V17.5M2.9 27.5V43.3M2.9 52.6V68.4M2.9 77.8V93.6M2.9 102.9V118.7M2.9 128V143.8M2.9 153.1V168.9M2.9 178.3V194.1M2.9 203.4V219.2M2.9 228.5V244.3M2.9 253.7V269.5M2.9 278.8V294.6M2.9 303.9V319.7M2.9 329.1V344.9M2.9 354.2V370M2.9 379.3V395.1M2.9 404.4V420.2M2.9 429.6V445.4M2.9 454.7V470.5M2.9 479.8V495.6M2.9 505V520.8M2.9 530.1V545.9M2.9 555.2V571M2.9 580.4V596.2M2.9 605.5V621.3M2.9 630.6V646.4M2.9 655.8V671.5M2.9 680.9V696.7M2.9 706V721.8M2.9 731.1V746.9M2.9 756.3V772.1M2.9 781.4V797.2M2.9 806.5V822.3M2.9 831.7V847.5M2.9 856.8V872.6M2.9 881.9V897.7M2.9 907V922.8M2.9 932.2V948M2.9 957.3V973.1M2.9 982.5V996.6M861.8 0.6V5.8M861.8 14.4V30.6M861.8 39.6V55.8M861.8 64.7V80.9M861.8 89.9V106.1M861.8 115.1V131.3M861.8 140.2V156.4M861.8 165.4V181.6M861.8 190.6V206.8M861.8 215.7V231.9M861.8 240.9V257.1M861.8 266V282.2M861.8 291.2V307.4M861.8 316.4V332.6M861.8 341.5V357.7M861.8 366.7V382.9M861.8 391.9V408.1M861.8 417V433.2M861.8 442.2V458.4M861.8 467.4V483.6M861.8 492.5V508.7M861.8 517.7V533.9M861.8 542.9V559.1M861.8 568V584.2M861.8 593.2V609.4M861.8 618.4V634.6M861.8 643.5V659.7M861.8 668.7V684.9M861.8 693.9V710.1M861.8 719V735.2M861.8 744.2V760.4M861.8 769.3V785.5M861.8 794.5V810.7M861.8 819.7V835.9M861.8 844.8V861M861.8 870V886.2M861.8 895.2V911.4M861.8 920.3V936.5M861.8 945.5V961.7M861.8 970.7V986.9M1.7 995.4H6.4M15.3 995.4H31.8M40.4 995.4H56.9M65.6 995.4H82.1M90.7 995.4H107.2M115.9 995.4H132.4M141 995.4H157.5M166.1 995.4H182.6M191.3 995.4H207.8M216.4 995.4H232.9M241.6 995.4H258.1M266.7 995.4H283.2M291.8 995.4H308.3M317 995.4H333.5M342.1 995.4H358.6M367.3 995.4H383.8M392.4 995.4H408.9M417.5 995.4H434M442.7 995.4H459.2M467.8 995.4H484.3M493 995.4H509.5M518.1 995.4H534.6M543.2 995.4H559.7M568.4 995.4H584.9M593.5 995.4H610M618.7 995.4H635.2M643.8 995.4H660.3M668.9 995.4H685.4M694.1 995.4H710.6M719.2 995.4H735.7M744.4 995.4H760.9M769.5 995.4H786M794.6 995.4H811.1M819.8 995.4H836.3M844.9 995.4H861.4" fill="none" stroke="#111" stroke-width="2.3"/>
<rect x="21.4" y="132.3" width="40.1" height="27.2" fill="#ff0000"/>
<rect x="21.4" y="159.2" width="40.1" height="27.2" fill="#ff5d00"/>
<rect x="21.4" y="186.1" width="40.1" height="27.2" fill="#ffb900"/>
<rect x="21.4" y="213" width="40.1" height="27.2" fill="#e8ff00"/>
<rect x="21.4" y="239.9" width="40.1" height="27.2" fill="#8bff00"/>
<rect x="21.4" y="266.9" width="40.1" height="27.2" fill="#2eff00"/>
<rect x="21.4" y="293.8" width="40.1" height="27.2" fill="#00ff2e"/>
<rect x="21.4" y="320.6" width="40.1" height="27.2" fill="#00ff8b"/>
<rect x="21.4" y="347.5" width="40.1" height="27.2" fill="#00ffe8"/>
<rect x="21.4" y="374.4" width="40.1" height="27.2" fill="#00b9ff"/>
<rect x="21.4" y="401.4" width="40.1" height="27.2" fill="#005dff"/>
<rect x="21.4" y="428.2" width="40.1" height="27.2" fill="#0000ff"/>
<rect x="21.4" y="132.3" width="40.1" height="322.8" fill="none" stroke="#2a2020" stroke-width="0.8" stroke-opacity="0.5"/>
<line x1="21.4" y1="132.3" x2="61.5" y2="132.3" stroke="#2a2020" stroke-width="0.9" stroke-opacity="0.5"/>
<line x1="61.5" y1="132.3" x2="74.8" y2="132.3" stroke="#2a2a2a" stroke-width="0.9" stroke-opacity="0.8"/>
<line x1="21.4" y1="159.2" x2="61.5" y2="159.2" stroke="#2a2020" stroke-width="0.9" stroke-opacity="0.5"/>
<line x1="61.5" y1="159.2" x2="74.8" y2="159.2" stroke="#2a2a2a" stroke-width="0.9" stroke-opacity="0.8"/>
<line x1="21.4" y1="186.1" x2="61.5" y2="186.1" stroke="#2a2020" stroke-width="0.9" stroke-opacity="0.5"/>
<line x1="61.5" y1="186.1" x2="74.8" y2="186.1" stroke="#2a2a2a" stroke-width="0.9" stroke-opacity="0.8"/>
<line x1="21.4" y1="213" x2="61.5" y2="213" stroke="#2a2020" stroke-width="0.9" stroke-opacity="0.5"/>
<line x1="61.5" y1="213" x2="74.8" y2="213" stroke="#2a2a2a" stroke-width="0.9" stroke-opacity="0.8"/>
<line x1="21.4" y1="239.9" x2="61.5" y2="239.9" stroke="#2a2020" stroke-width="0.9" stroke-opacity="0.5"/>
<line x1="61.5" y1="239.9" x2="74.8" y2="239.9" stroke="#2a2a2a" stroke-width="0.9" stroke-opacity="0.8"/>
<line x1="21.4" y1="266.9" x2="61.5" y2="266.9" stroke="#2a2020" stroke-width="0.9" stroke-opacity="0.5"/>
<line x1="61.5" y1="266.9" x2="74.8" y2="266.9" stroke="#2a2a2a" stroke-width="0.9" stroke-opacity="0.8"/>
<line x1="21.4" y1="293.8" x2="61.5" y2="293.8" stroke="#2a2020" stroke-width="0.9" stroke-opacity="0.5"/>
<line x1="61.5" y1="293.8" x2="74.8" y2="293.8" stroke="#2a2a2a" stroke-width="0.9" stroke-opacity="0.8"/>
<line x1="21.4" y1="320.6" x2="61.5" y2="320.6" stroke="#2a2020" stroke-width="0.9" stroke-opacity="0.5"/>
<line x1="61.5" y1="320.6" x2="74.8" y2="320.6" stroke="#2a2a2a" stroke-width="0.9" stroke-opacity="0.8"/>
<line x1="21.4" y1="347.5" x2="61.5" y2="347.5" stroke="#2a2020" stroke-width="0.9" stroke-opacity="0.5"/>
<line x1="61.5" y1="347.5" x2="74.8" y2="347.5" stroke="#2a2a2a" stroke-width="0.9" stroke-opacity="0.8"/>
<line x1="21.4" y1="374.4" x2="61.5" y2="374.4" stroke="#2a2020" stroke-width="0.9" stroke-opacity="0.5"/>
<line x1="61.5" y1="374.4" x2="74.8" y2="374.4" stroke="#2a2a2a" stroke-width="0.9" stroke-opacity="0.8"/>
<line x1="21.4" y1="401.4" x2="61.5" y2="401.4" stroke="#2a2020" stroke-width="0.9" stroke-opacity="0.5"/>
<line x1="61.5" y1="401.4" x2="74.8" y2="401.4" stroke="#2a2a2a" stroke-width="0.9" stroke-opacity="0.8"/>
<line x1="21.4" y1="428.2" x2="61.5" y2="428.2" stroke="#2a2020" stroke-width="0.9" stroke-opacity="0.5"/>
<line x1="61.5" y1="428.2" x2="74.8" y2="428.2" stroke="#2a2a2a" stroke-width="0.9" stroke-opacity="0.8"/>
<line x1="21.4" y1="455.1" x2="61.5" y2="455.1" stroke="#2a2020" stroke-width="0.9" stroke-opacity="0.5"/>
<line x1="61.5" y1="455.1" x2="74.8" y2="455.1" stroke="#2a2a2a" stroke-width="0.9" stroke-opacity="0.8"/>
<rect x="21.9" y="611.8" width="40.4" height="27.4" fill="#ff0000"/>
<rect x="21.9" y="638.9" width="40.4" height="27.4" fill="#ff5d00"/>
<rect x="21.9" y="665.9" width="40.4" height="27.4" fill="#ffb900"/>
<rect x="21.9" y="693" width="40.4" height="27.4" fill="#e8ff00"/>
<rect x="21.9" y="720.1" width="40.4" height="27.4" fill="#8bff00"/>
<rect x="21.9" y="747.1" width="40.4" height="27.4" fill="#2eff00"/>
<rect x="21.9" y="774.2" width="40.4" height="27.4" fill="#00ff2e"/>
<rect x="21.9" y="801.3" width="40.4" height="27.4" fill="#00ff8b"/>
<rect x="21.9" y="828.4" width="40.4" height="27.4" fill="#00ffe8"/>
<rect x="21.9" y="855.4" width="40.4" height="27.4" fill="#00b9ff"/>
<rect x="21.9" y="882.5" width="40.4" height="27.4" fill="#005dff"/>
<rect x="21.9" y="909.6" width="40.4" height="27.4" fill="#0000ff"/>
<rect x="21.9" y="611.8" width="40.4" height="324.8" fill="none" stroke="#2a2020" stroke-width="0.8" stroke-opacity="0.5"/>
<line x1="21.9" y1="611.8" x2="62.3" y2="611.8" stroke="#2a2020" stroke-width="0.9" stroke-opacity="0.5"/>
<line x1="62.3" y1="611.8" x2="75.8" y2="611.8" stroke="#2a2a2a" stroke-width="0.9" stroke-opacity="0.8"/>
<line x1="21.9" y1="638.9" x2="62.3" y2="638.9" stroke="#2a2020" stroke-width="0.9" stroke-opacity="0.5"/>
<line x1="62.3" y1="638.9" x2="75.8" y2="638.9" stroke="#2a2a2a" stroke-width="0.9" stroke-opacity="0.8"/>
<line x1="21.9" y1="665.9" x2="62.3" y2="665.9" stroke="#2a2020" stroke-width="0.9" stroke-opacity="0.5"/>
<line x1="62.3" y1="665.9" x2="75.8" y2="665.9" stroke="#2a2a2a" stroke-width="0.9" stroke-opacity="0.8"/>
<line x1="21.9" y1="693" x2="62.3" y2="693" stroke="#2a2020" stroke-width="0.9" stroke-opacity="0.5"/>
<line x1="62.3" y1="693" x2="75.8" y2="693" stroke="#2a2a2a" stroke-width="0.9" stroke-opacity="0.8"/>
<line x1="21.9" y1="720.1" x2="62.3" y2="720.1" stroke="#2a2020" stroke-width="0.9" stroke-opacity="0.5"/>
<line x1="62.3" y1="720.1" x2="75.8" y2="720.1" stroke="#2a2a2a" stroke-width="0.9" stroke-opacity="0.8"/>
<line x1="21.9" y1="747.1" x2="62.3" y2="747.1" stroke="#2a2020" stroke-width="0.9" stroke-opacity="0.5"/>
<line x1="62.3" y1="747.1" x2="75.8" y2="747.1" stroke="#2a2a2a" stroke-width="0.9" stroke-opacity="0.8"/>
<line x1="21.9" y1="774.2" x2="62.3" y2="774.2" stroke="#2a2020" stroke-width="0.9" stroke-opacity="0.5"/>
<line x1="62.3" y1="774.2" x2="75.8" y2="774.2" stroke="#2a2a2a" stroke-width="0.9" stroke-opacity="0.8"/>
<line x1="21.9" y1="801.3" x2="62.3" y2="801.3" stroke="#2a2020" stroke-width="0.9" stroke-opacity="0.5"/>
<line x1="62.3" y1="801.3" x2="75.8" y2="801.3" stroke="#2a2a2a" stroke-width="0.9" stroke-opacity="0.8"/>
<line x1="21.9" y1="828.4" x2="62.3" y2="828.4" stroke="#2a2020" stroke-width="0.9" stroke-opacity="0.5"/>
<line x1="62.3" y1="828.4" x2="75.8" y2="828.4" stroke="#2a2a2a" stroke-width="0.9" stroke-opacity="0.8"/>
<line x1="21.9" y1="855.4" x2="62.3" y2="855.4" stroke="#2a2020" stroke-width="0.9" stroke-opacity="0.5"/>
<line x1="62.3" y1="855.4" x2="75.8" y2="855.4" stroke="#2a2a2a" stroke-width="0.9" stroke-opacity="0.8"/>
<line x1="21.9" y1="882.5" x2="62.3" y2="882.5" stroke="#2a2020" stroke-width="0.9" stroke-opacity="0.5"/>
<line x1="62.3" y1="882.5" x2="75.8" y2="882.5" stroke="#2a2a2a" stroke-width="0.9" stroke-opacity="0.8"/>
<line x1="21.9" y1="909.6" x2="62.3" y2="909.6" stroke="#2a2020" stroke-width="0.9" stroke-opacity="0.5"/>
<line x1="62.3" y1="909.6" x2="75.8" y2="909.6" stroke="#2a2a2a" stroke-width="0.9" stroke-opacity="0.8"/>
<line x1="21.9" y1="936.6" x2="62.3" y2="936.6" stroke="#2a2020" stroke-width="0.9" stroke-opacity="0.5"/>
<line x1="62.3" y1="936.6" x2="75.8" y2="936.6" stroke="#2a2a2a" stroke-width="0.9" stroke-opacity="0.8"/>
<g clip-path="url(#c_ai)">
<path d="M311.5 77.4 L311.5 80.5 L311.4 83.8 L311.1 87.1 L310.8 90 L310.1 93.1 L309.3 96.2 L308.3 99.1 L307.2 102 L306.1 105 L304.9 108 L303.6 111 L302.2 114 L300.7 117 L299.1 120 L297.4 123 L295.6 126 L293.7 129 L291.7 132 L289.9 135 L288 138 L286.2 141 L284.4 144 L282.6 147 L280.8 150 L279 153 L277.2 156 L275.4 159 L273.6 162 L271.7 165 L269.8 168 L267.8 171 L265.7 174 L263.7 177 L261.7 180 L259.7 183 L257.6 186 L255.6 189 L253.7 192 L252.1 195 L250.6 198 L249.4 201 L248.2 204 L247.1 207 L246.2 210 L245.3 213 L244.6 216 L243.9 219 L243.3 222 L242.7 225 L242.1 228 L241.6 231 L241.2 234 L240.8 237 L240.5 240 L240.2 243 L240 246 L239.9 249 L239.8 252 L239.8 255 L239.8 258 L239.9 261 L240 264 L240.2 267 L240.5 270 L240.8 273 L241.2 276 L241.6 279 L242.1 282 L242.7 285 L243.3 288 L244 291 L244.7 294 L245.6 297 L246.5 300 L247.5 303 L248.5 306 L249.7 309 L250.9 312 L252.2 315 L253.7 318 L255.3 321 L257 324 L258.8 327 L260.7 330 L262.5 333 L264.4 336 L266.3 339 L268.3 342 L270.2 345 L272.1 348 L274 351 L275.9 354 L277.8 357 L279.7 360 L281.6 363 L283.5 366 L285.5 369 L287.4 372 L289.3 375 L291.1 378 L292.9 381 L294.7 384 L296.4 387 L298.1 390 L299.6 393 L301 396 L302.4 399 L303.6 402 L304.8 405 L305.9 408 L306.9 411 L307.8 414 L308.7 417 L309.4 420 L310.1 423.1 L310.6 426.4 L311.1 429.6 L311.5 432.5 L311.8 435 L311.9 437.7 A10.2 4.3 0 0 0 332.4 437.7 L332.3 435 L332.1 432.5 L331.8 429.6 L331.5 426.4 L331.1 423.1 L330.6 420 L330.1 417 L329.5 414 L328.9 411 L328.2 408 L327.4 405 L326.5 402 L325.7 399 L324.7 396 L323.7 393 L322.6 390 L321.4 387 L320.1 384 L318.8 381 L317.3 378 L315.8 375 L314.2 372 L312.5 369 L310.6 366 L308.8 363 L306.9 360 L305.1 357 L303.2 354 L301.3 351 L299.3 348 L297.4 345 L295.5 342 L293.6 339 L291.7 336 L289.8 333 L287.9 330 L286.1 327 L284.2 324 L282.3 321 L280.4 318 L278.6 315 L276.8 312 L275.2 309 L273.6 306 L272.2 303 L270.8 300 L269.4 297 L268.1 294 L266.8 291 L265.7 288 L264.7 285 L263.9 282 L263.3 279 L262.8 276 L262.4 273 L262 270 L261.7 267 L261.4 264 L261.1 261 L260.9 258 L260.8 255 L260.8 252 L260.8 249 L261 246 L261.2 243 L261.5 240 L262 237 L262.5 234 L263.1 231 L263.9 228 L264.7 225 L265.6 222 L266.7 219 L267.9 216 L269.2 213 L270.6 210 L272.1 207 L273.8 204 L275.5 201 L277.4 198 L279.3 195 L281.2 192 L283.1 189 L284.9 186 L286.8 183 L288.7 180 L290.6 177 L292.4 174 L294.3 171 L296.1 168 L298 165 L299.8 162 L301.6 159 L303.4 156 L305.2 153 L307 150 L308.8 147 L310.7 144 L312.5 141 L314.2 138 L315.9 135 L317.5 132 L318.9 129 L320.3 126 L321.6 123 L322.8 120 L324 117 L325 114 L326 111 L326.9 108 L327.8 105 L328.7 102 L329.5 99.1 L330.2 96.2 L330.8 93.1 L331.3 90 L331.6 87.1 L331.9 83.8 L332.1 80.5 L332.3 77.4 A10.4 4.6 0 0 0 311.5 77.4 Z" fill="url(#g1)"/>
<g filter="url(#bl2)">
<path d="M287.3 135 L285.4 138 L283.6 141 L281.8 144 L280 147 L278.2 150 L276.4 153 L274.6 156 L272.8 159 L271 162 L269.1 165 L267.1 168 L265.1 171 L263 174 L261 177 L259 180 L256.9 183 L254.9 186 L252.8 189 L250.9 192 L249.3 195 L248 198 L246.7 201 L245.6 204 L244.7 207 L243.7 210 L256.4 210 L257.6 207 L258.9 204 L260.4 201 L261.9 198 L263.5 195 L265.2 192 L267.1 189 L269.1 186 L271.1 183 L273 180 L275 177 L276.9 174 L278.9 171 L280.8 168 L282.7 165 L284.6 162 L286.4 159 L288.2 156 L290 153 L291.8 150 L293.6 147 L295.4 144 L297.3 141 L299 138 L300.8 135Z" fill="url(#g2)"/>
<path d="M273.7 174 L271.8 177 L269.8 180 L267.8 183 L265.8 186 L263.8 189 L261.9 192 L260.2 195 L258.7 198 L257.2 201 L255.9 204 L254.6 207 L253.5 210 L252.5 213 L251.6 216 L259 216 L260.1 213 L261.3 210 L262.6 207 L264.1 204 L265.6 201 L267.2 198 L268.9 195 L270.8 192 L272.6 189 L274.6 186 L276.5 183 L278.4 180 L280.4 177 L282.3 174Z" fill="url(#g3)"/>
<path d="M268.8 192 L267 195 L265.3 198 L263.8 201 L262.3 204 L260.9 207 L259.6 210 L258.4 213 L257.4 216 L256.4 219 L255.6 222 L267.9 222 L269 219 L270.2 216 L271.6 213 L273 210 L274.6 207 L276.3 204 L278.2 201 L280.1 198 L282 195 L284 192Z" fill="url(#g4)"/>
<path d="M257.6 294 L258.7 297 L259.8 300 L261.1 303 L262.3 306 L263.7 309 L265.1 312 L266.7 315 L268.4 318 L270.1 321 L286.4 321 L284.4 318 L282.5 315 L280.7 312 L279 309 L277.4 306 L275.9 303 L274.4 300 L273 297 L271.6 294Z" fill="url(#g5)"/>
</g><g filter="url(#bl)">
<ellipse cx="250.6" cy="261" rx="15" ry="31" transform="rotate(0 250.6 261)" fill="#8ee414" opacity="1"/>
<ellipse cx="250.6" cy="261" rx="13" ry="27.5" transform="rotate(0 250.6 261)" fill="#e4f010" opacity="1"/>
<ellipse cx="251" cy="261" rx="10.5" ry="24.5" transform="rotate(0 251 261)" fill="#f8b010" opacity="1"/>
<ellipse cx="248.8" cy="248.2" rx="7.2" ry="10.2" transform="rotate(10 248.8 248.2)" fill="#f85a0a" opacity="1"/>
<ellipse cx="248.4" cy="248.5" rx="4.2" ry="7" transform="rotate(10 248.4 248.5)" fill="#f0400a" opacity="1"/>
<ellipse cx="255" cy="275" rx="5.6" ry="10.4" transform="rotate(-8 255 275)" fill="#f85a0a" opacity="1"/>
<ellipse cx="254.8" cy="274.5" rx="3.2" ry="7" transform="rotate(-8 254.8 274.5)" fill="#f0400a" opacity="1"/>
<ellipse cx="252.4" cy="259.8" rx="3.7" ry="5.8" transform="rotate(0 252.4 259.8)" fill="#8ee414" opacity="1"/>
<ellipse cx="246.2" cy="270" rx="2.6" ry="10" transform="rotate(-6 246.2 270)" fill="#e4f010" opacity="0.9"/>
</g><g filter="url(#bl2)">
</g>
<path d="M329.2 72.8 L329.1 74.7 L329 77.3 L328.8 80.5 L328.6 83.8 L328.4 87.1 L328 90 L327.5 93.1 L326.8 96.2 L326.1 99.1 L325.2 102 L324.3 105 L323.4 108 L322.4 111 L321.4 114 L320.2 117 L319 120 L317.8 123 L316.4 126 L314.9 129 L313.3 132 L311.7 135 L310.1 138 L308.3 141 L306.5 144 L304.6 147 L302.8 150 L301 153 L299.2 156 L297.4 159 L295.6 162 L293.8 165 L291.9 168 L290.1 171 L288.2 174 L286.3 177 L284.4 180 L282.5 183 L280.6 186 L278.7 189 L276.8 192 L274.9 195 L273.1 198 L271.4 201 L269.7 204 L268.1 207 L266.7 210 L265.4 213 L264.1 216 L263.1 219 L262.1 222 L261.2 225 L260.4 228 L259.7 231 L259.1 234 L258.6 237 L258.2 240 L257.8 243 L257.6 246 L257.5 249 L257.4 252 L257.4 255 L257.5 258 L257.7 261 L257.9 264 L258.2 267 L258.6 270 L259 273 L259.4 276 L259.8 279 L260.4 282 L261.2 285 L262.1 288 L263.2 291 L264.3 294 L265.6 297 L266.9 300 L268.2 303 L269.6 306 L271.1 309 L272.7 312 L274.3 315 L276.1 318 L278 321 L279.9 324 L281.7 327 L283.6 330 L285.4 333 L287.3 336 L289.2 339 L291.2 342 L293.1 345 L295 348 L296.9 351 L298.8 354 L300.7 357 L302.6 360 L304.4 363 L306.3 366 L308.1 369 L309.9 372 L311.6 375 L313.1 378 L314.6 381 L316.1 384 L317.4 387 L318.7 390 L319.8 393 L320.9 396 L321.9 399 L322.9 402 L323.8 405 L324.6 408 L325.4 411 L326.1 414 L326.7 417 L327.2 420 L327.7 423.1 L328.2 426.4 L328.5 429.6 L328.8 432.5 L329 435 L329.2 439.4 L329.1 442 L335.5 442 L335.5 439.4 L335.4 435 L335.2 432.5 L334.9 429.6 L334.6 426.4 L334.2 423.1 L333.8 420 L333.3 417 L332.8 414 L332.2 411 L331.5 408 L330.8 405 L330 402 L329.2 399 L328.3 396 L327.3 393 L326.3 390 L325.2 387 L323.9 384 L322.6 381 L321.2 378 L319.8 375 L318.2 372 L316.5 369 L314.7 366 L312.9 363 L311 360 L309.2 357 L307.3 354 L305.3 351 L303.4 348 L301.5 345 L299.6 342 L297.7 339 L295.8 336 L293.9 333 L292 330 L290.1 327 L288.3 324 L286.4 321 L284.4 318 L282.5 315 L280.7 312 L279 309 L277.4 306 L275.9 303 L274.4 300 L273 297 L271.6 294 L270.2 291 L269 288 L268 285 L267.2 282 L266.6 279 L266.1 276 L265.7 273 L265.3 270 L264.9 267 L264.6 264 L264.3 261 L264.1 258 L264 255 L263.9 252 L264 249 L264.1 246 L264.4 243 L264.7 240 L265.2 237 L265.7 234 L266.4 231 L267.1 228 L268 225 L269 222 L270.1 219 L271.4 216 L272.7 213 L274.2 210 L275.9 207 L277.6 204 L279.5 201 L281.4 198 L283.4 195 L285.3 192 L287.2 189 L289 186 L290.9 183 L292.8 180 L294.6 177 L296.4 174 L298.3 171 L300.1 168 L301.9 165 L303.7 162 L305.5 159 L307.3 156 L309.1 153 L310.9 150 L312.7 147 L314.6 144 L316.4 141 L318.2 138 L319.8 135 L321.3 132 L322.7 129 L324.1 126 L325.3 123 L326.4 120 L327.4 117 L328.4 114 L329.3 111 L330.2 108 L331.1 105 L331.9 102 L332.6 99.1 L333.3 96.2 L333.9 93.1 L334.4 90 L334.7 87.1 L335 83.8 L335.2 80.5 L335.5 77.3 L335.6 74.7 L335.8 72.8Z" fill="#000" opacity="0.1" filter="url(#bl)"/>
<ellipse cx="322.2" cy="437.9" rx="10.3" ry="4.3" fill="#0410b0"/>
</g>
<g clip-path="url(#c_aii)">
<path d="M534.5 73.4 L534.4 74.8 L534.2 78 L533.7 81.6 L532.9 85 L531.9 88.4 L530.6 92 L529.8 94.5 L528.8 97.1 L527.8 100 L526.5 103.1 L525.1 106.4 L523.5 110 L522 113.1 L520.3 116.4 L518.6 119.8 L516.8 123 L515.1 126.1 L513.3 129.1 L511.6 132.1 L509.9 135 L508.4 137.8 L507 140.4 L505.4 143.1 L503.7 146 L502.1 148.5 L500.4 151.1 L498.6 153.8 L496.6 156.8 L494.4 160 L492.7 162.5 L490.8 165.3 L488.8 168.2 L486.7 171.1 L484.7 174.1 L482.7 177.1 L480.9 180 L479.4 182.9 L477.9 185.7 L476.4 188.6 L475.1 191.4 L473.8 194.3 L472.6 197.1 L471.4 200 L470.4 202.9 L469.5 205.7 L468.6 208.6 L467.9 211.4 L467.2 214.3 L466.6 217.1 L466 220 L465.5 222.8 L465.1 225.7 L464.8 228.5 L464.5 231.3 L464.3 234.1 L464.1 237 L463.9 240 L463.7 243 L463.6 246.1 L463.5 249.3 L463.4 252.5 L463.4 255.7 L463.4 258.8 L463.5 262 L463.6 265.1 L463.7 268.3 L463.9 271.4 L464.1 274.6 L464.4 277.7 L464.8 280.9 L465.2 284 L465.8 287.1 L466.4 290.3 L467.1 293.4 L467.9 296.6 L468.7 299.7 L469.6 302.9 L470.6 306 L471.6 309.1 L472.7 312.3 L473.8 315.4 L475 318.6 L476.3 321.7 L477.6 324.9 L479 328 L480.5 331.1 L482.2 334.3 L484 337.4 L485.8 340.6 L487.7 343.7 L489.6 346.9 L491.6 350 L493.5 353.1 L495.5 356.3 L497.5 359.4 L499.6 362.6 L501.6 365.7 L503.6 368.9 L505.6 372 L507.4 375.1 L509.3 378.3 L511.2 381.4 L513 384.6 L514.8 387.7 L516.5 390.9 L518.2 394 L519.9 397.2 L521.6 400.4 L523.3 403.6 L524.9 406.9 L526.5 410 L527.9 413.1 L529.2 416 L530.5 419.3 L531.6 422.7 L532.6 425.9 L533.5 428.9 L534.2 431.6 L534.8 434 L535.3 438 A10.2 4 0 0 0 555.7 438 L555.4 434 L555.2 431.6 L554.9 428.9 L554.5 425.9 L554 422.7 L553.4 419.3 L552.6 416 L551.8 413.1 L550.9 410 L549.9 406.9 L548.8 403.6 L547.6 400.4 L546.3 397.2 L545 394 L543.6 390.9 L542 387.7 L540.4 384.6 L538.7 381.4 L536.9 378.3 L535.1 375.1 L533.2 372 L531.3 368.9 L529.4 365.7 L527.4 362.6 L525.4 359.4 L523.4 356.3 L521.3 353.1 L519.2 350 L517.1 346.9 L514.9 343.7 L512.6 340.6 L510.3 337.4 L508.1 334.3 L505.9 331.1 L503.9 328 L502 324.9 L500.3 321.7 L498.7 318.6 L497.3 315.4 L495.9 312.3 L494.6 309.1 L493.3 306 L492.1 302.9 L491 299.7 L489.9 296.6 L488.9 293.4 L488 290.3 L487.1 287.1 L486.4 284 L485.8 280.9 L485.3 277.7 L484.9 274.6 L484.6 271.4 L484.4 268.3 L484.2 265.1 L484 262 L483.9 258.8 L483.8 255.7 L483.8 252.5 L483.9 249.3 L484 246.1 L484.1 243 L484.3 240 L484.5 237 L484.8 234.1 L485.1 231.3 L485.5 228.5 L485.9 225.7 L486.5 222.8 L487.3 220 L488.2 217.1 L489.2 214.3 L490.4 211.4 L491.6 208.6 L493 205.7 L494.3 202.9 L495.7 200 L497 197.1 L498.5 194.3 L499.9 191.4 L501.5 188.6 L503.1 185.7 L504.8 182.9 L506.5 180 L508.3 177.1 L510.3 174.1 L512.3 171.1 L514.4 168.2 L516.4 165.3 L518.2 162.5 L520 160 L522.1 156.8 L523.9 153.8 L525.7 151.1 L527.3 148.5 L528.8 146 L530.6 143.1 L532.1 140.4 L533.6 137.8 L535.2 135 L536.9 132.1 L538.7 129.1 L540.3 126.1 L541.8 123 L543.3 119.8 L544.7 116.4 L546 113.1 L547.1 110 L548.4 106.4 L549.4 103.1 L550.3 100 L551.2 97.1 L552 94.5 L552.7 92 L553.5 88.4 L554.1 85 L554.5 81.6 L554.8 78 L555 74.8 L555.1 73.4 A10.3 4.4 0 0 0 534.5 73.4 Z" fill="url(#g6)"/>
<g filter="url(#bl2)">
<path d="M543.4 69 L543.2 71.4 L543.1 74.8 L542.9 78 L542.4 81.6 L541.8 85 L541 88.4 L539.9 92 L539.1 94.5 L538.2 97.1 L537.2 100 L536.1 103.1 L534.9 106.4 L533.4 110 L532.1 113.1 L530.5 116.4 L528.9 119.8 L527.3 123 L525.7 126.1 L524 129.1 L522.2 132.1 L520.5 135 L519 137.8 L517.5 140.4 L516 143.1 L514.2 146 L512.7 148.5 L531.1 148.5 L532.6 146 L534.4 143.1 L535.9 140.4 L537.4 137.8 L539 135 L540.8 132.1 L542.5 129.1 L544.1 126.1 L545.5 123 L547 119.8 L548.3 116.4 L549.6 113.1 L550.7 110 L551.9 106.4 L552.9 103.1 L553.7 100 L554.6 97.1 L555.4 94.5 L556 92 L556.8 88.4 L557.3 85 L557.7 81.6 L557.9 78 L558.1 74.8 L558.3 71.4 L558.4 69Z" fill="url(#g7)"/>
<path d="M528.4 92 L527.5 94.5 L526.6 97.1 L525.5 100 L524.2 103.1 L522.8 106.4 L521.1 110 L519.6 113.1 L517.9 116.4 L516.1 119.8 L514.3 123 L512.6 126.1 L510.8 129.1 L509 132.1 L507.4 135 L505.9 137.8 L504.4 140.4 L502.9 143.1 L501.1 146 L499.6 148.5 L497.9 151.1 L511.8 151.1 L513.4 148.5 L515 146 L516.7 143.1 L518.3 140.4 L519.8 137.8 L521.3 135 L523 132.1 L524.7 129.1 L526.4 126.1 L528.1 123 L529.7 119.8 L531.3 116.4 L532.8 113.1 L534.1 110 L535.6 106.4 L536.8 103.1 L537.9 100 L538.9 97.1 L539.8 94.5 L540.6 92Z" fill="url(#g8)"/>
<path d="M516.2 146 L514.7 148.5 L513 151.1 L511.3 153.8 L509.3 156.8 L507.2 160 L505.5 162.5 L503.6 165.3 L501.6 168.2 L499.5 171.1 L497.5 174.1 L495.5 177.1 L493.7 180 L492.1 182.9 L490.5 185.7 L489 188.6 L487.5 191.4 L486.1 194.3 L484.8 197.1 L483.5 200 L482.4 202.9 L481.2 205.7 L480.1 208.6 L479.1 211.4 L493.8 211.4 L495.1 208.6 L496.5 205.7 L497.9 202.9 L499.3 200 L500.7 197.1 L502.2 194.3 L503.7 191.4 L505.2 188.6 L506.9 185.7 L508.6 182.9 L510.4 180 L512.2 177.1 L514.1 174.1 L516.2 171.1 L518.2 168.2 L520.2 165.3 L522.1 162.5 L523.8 160 L525.9 156.8 L527.8 153.8 L529.5 151.1 L531.1 148.5 L532.6 146Z" fill="url(#g9)"/>
<path d="M496.4 165.3 L494.4 168.2 L492.3 171.1 L490.3 174.1 L488.4 177.1 L486.6 180 L485 182.9 L483.4 185.7 L481.9 188.6 L480.5 191.4 L479.2 194.3 L477.9 197.1 L476.8 200 L475.7 202.9 L474.6 205.7 L483.6 205.7 L484.7 202.9 L486 200 L487.3 197.1 L488.6 194.3 L490 191.4 L491.5 188.6 L493 185.7 L494.6 182.9 L496.3 180 L498.1 177.1 L500 174.1 L502.1 171.1 L504.1 168.2 L506.1 165.3Z" fill="url(#g10)"/>
<path d="M483.1 302.9 L484.2 306 L485.4 309.1 L486.6 312.3 L487.9 315.4 L489.2 318.6 L490.7 321.7 L492.2 324.9 L493.9 328 L495.8 331.1 L497.7 334.3 L499.8 337.4 L501.9 340.6 L504 343.7 L506.1 346.9 L508.2 350 L510.2 353.1 L512.2 356.3 L527.6 356.3 L525.5 353.1 L523.4 350 L521.2 346.9 L518.9 343.7 L516.6 340.6 L514.3 337.4 L512 334.3 L509.7 331.1 L507.6 328 L505.7 324.9 L503.9 321.7 L502.3 318.6 L500.8 315.4 L499.4 312.3 L498 309.1 L496.8 306 L495.5 302.9Z" fill="url(#g11)"/>
<path d="M501.8 353.1 L503.9 356.3 L505.9 359.4 L507.9 362.6 L510 365.7 L511.9 368.9 L513.9 372 L515.7 375.1 L517.6 378.3 L519.4 381.4 L521.2 384.6 L522.9 387.7 L524.6 390.9 L526.3 394 L527.9 397.2 L529.4 400.4 L531 403.6 L532.4 406.9 L533.8 410 L544.1 410 L542.9 406.9 L541.7 403.6 L540.3 400.4 L538.9 397.2 L537.5 394 L536 390.9 L534.4 387.7 L532.7 384.6 L531 381.4 L529.2 378.3 L527.3 375.1 L525.5 372 L523.6 368.9 L521.6 365.7 L519.6 362.6 L517.6 359.4 L515.6 356.3 L513.5 353.1Z" fill="url(#g12)"/>
<path d="M508.8 375.1 L510.7 378.3 L512.5 381.4 L514.3 384.6 L516.1 387.7 L517.9 390.9 L519.6 394 L521.3 397.2 L522.9 400.4 L524.6 403.6 L526.2 406.9 L527.7 410 L529.1 413.1 L530.4 416 L531.6 419.3 L532.8 422.7 L533.7 425.9 L534.6 428.9 L535.2 431.6 L543 431.6 L542.5 428.9 L541.8 425.9 L541 422.7 L540.1 419.3 L539 416 L537.9 413.1 L536.7 410 L535.4 406.9 L534 403.6 L532.5 400.4 L531 397.2 L529.5 394 L527.9 390.9 L526.2 387.7 L524.5 384.6 L522.7 381.4 L520.9 378.3 L519.1 375.1Z" fill="url(#g13)"/>
</g><g filter="url(#bl)">
<ellipse cx="474.6" cy="260" rx="20" ry="38.5" transform="rotate(2 474.6 260)" fill="#8ee414" opacity="1"/>
<ellipse cx="474.6" cy="260" rx="19" ry="35.5" transform="rotate(2 474.6 260)" fill="#e4f010" opacity="1"/>
<ellipse cx="474.8" cy="260" rx="18" ry="33" transform="rotate(2 474.8 260)" fill="#f8b010" opacity="1"/>
<ellipse cx="475" cy="260" rx="17" ry="30.5" transform="rotate(2 475 260)" fill="#f85a0a" opacity="1"/>
<ellipse cx="474.6" cy="240" rx="9.6" ry="9.6" transform="rotate(0 474.6 240)" fill="#e81a0e" opacity="1"/>
<ellipse cx="476.2" cy="277.2" rx="9.6" ry="12" transform="rotate(-4 476.2 277.2)" fill="#e81a0e" opacity="1"/>
<ellipse cx="468.6" cy="257" rx="1" ry="6" transform="rotate(10 468.6 257)" fill="#f8b010" opacity="0.9"/>
<ellipse cx="471.4" cy="256.5" rx="1.1" ry="6.5" transform="rotate(10 471.4 256.5)" fill="#e4f010" opacity="0.95"/>
<ellipse cx="474.4" cy="256" rx="1.1" ry="7" transform="rotate(10 474.4 256)" fill="#e4f010" opacity="0.95"/>
<ellipse cx="477.4" cy="255.5" rx="1.1" ry="6.5" transform="rotate(10 477.4 255.5)" fill="#e4f010" opacity="0.9"/>
<ellipse cx="480.2" cy="254.5" rx="1" ry="5.5" transform="rotate(10 480.2 254.5)" fill="#f8b010" opacity="0.9"/>
</g><g filter="url(#bl2)">
</g>
<path d="M552 69 L551.9 71.4 L551.7 74.8 L551.5 78 L551.2 81.6 L550.8 85 L550.1 88.4 L549.2 92 L548.5 94.5 L547.7 97.1 L546.7 100 L545.8 103.1 L544.7 106.4 L543.3 110 L542.1 113.1 L540.8 116.4 L539.3 119.8 L537.8 123 L536.3 126.1 L534.6 129.1 L532.9 132.1 L531.2 135 L529.6 137.8 L528.1 140.4 L526.6 143.1 L524.8 146 L523.3 148.5 L521.6 151.1 L519.9 153.8 L518 156.8 L515.9 160 L514.2 162.5 L512.3 165.3 L510.3 168.2 L508.2 171.1 L506.2 174.1 L504.2 177.1 L502.5 180 L500.7 182.9 L499 185.7 L497.5 188.6 L496 191.4 L494.5 194.3 L493.1 197.1 L491.8 200 L490.5 202.9 L489.2 205.7 L488 208.6 L486.8 211.4 L485.7 214.3 L484.7 217.1 L483.9 220 L483.2 222.8 L482.6 225.7 L482.2 228.5 L481.8 231.3 L481.5 234.1 L481.3 237 L481 240 L480.9 243 L480.7 246.1 L480.6 249.3 L480.6 252.5 L480.6 255.7 L480.6 258.8 L480.7 262 L480.9 265.1 L481.1 268.3 L481.3 271.4 L481.6 274.6 L482 277.7 L482.4 280.9 L483 284 L483.7 287.1 L484.5 290.3 L485.4 293.4 L486.4 296.6 L487.4 299.7 L488.5 302.9 L489.7 306 L490.9 309.1 L492.2 312.3 L493.5 315.4 L494.9 318.6 L496.4 321.7 L498.1 324.9 L499.9 328 L501.9 331.1 L504 334.3 L506.1 337.4 L508.3 340.6 L510.5 343.7 L512.7 346.9 L514.8 350 L516.9 353.1 L518.9 356.3 L521 359.4 L523 362.6 L525 365.7 L526.9 368.9 L528.8 372 L530.7 375.1 L532.5 378.3 L534.3 381.4 L536 384.6 L537.7 387.7 L539.2 390.9 L540.7 394 L542.1 397.2 L543.4 400.4 L544.7 403.6 L545.9 406.9 L547 410 L548 413.1 L548.9 416 L549.7 419.3 L550.4 422.7 L551 425.9 L551.5 428.9 L551.8 431.6 L552.1 434 L552.5 437.7 L552.5 440.3 L552.4 442 L558.8 442 L558.8 440.3 L558.8 437.7 L558.5 434 L558.3 431.6 L558.1 428.9 L557.8 425.9 L557.3 422.7 L556.8 419.3 L556.1 416 L555.4 413.1 L554.6 410 L553.7 406.9 L552.6 403.6 L551.5 400.4 L550.3 397.2 L549 394 L547.6 390.9 L546.1 387.7 L544.5 384.6 L542.8 381.4 L541 378.3 L539.2 375.1 L537.4 372 L535.5 368.9 L533.6 365.7 L531.6 362.6 L529.6 359.4 L527.6 356.3 L525.5 353.1 L523.4 350 L521.2 346.9 L518.9 343.7 L516.6 340.6 L514.3 337.4 L512 334.3 L509.7 331.1 L507.6 328 L505.7 324.9 L503.9 321.7 L502.3 318.6 L500.8 315.4 L499.4 312.3 L498 309.1 L496.8 306 L495.5 302.9 L494.3 299.7 L493.2 296.6 L492.2 293.4 L491.2 290.3 L490.3 287.1 L489.6 284 L489 280.9 L488.4 277.7 L488 274.6 L487.7 271.4 L487.4 268.3 L487.2 265.1 L487.1 262 L487 258.8 L486.9 255.7 L486.9 252.5 L486.9 249.3 L487 246.1 L487.2 243 L487.4 240 L487.6 237 L487.9 234.1 L488.2 231.3 L488.6 228.5 L489.1 225.7 L489.7 222.8 L490.5 220 L491.4 217.1 L492.5 214.3 L493.8 211.4 L495.1 208.6 L496.5 205.7 L497.9 202.9 L499.3 200 L500.7 197.1 L502.2 194.3 L503.7 191.4 L505.2 188.6 L506.9 185.7 L508.6 182.9 L510.4 180 L512.2 177.1 L514.1 174.1 L516.2 171.1 L518.2 168.2 L520.2 165.3 L522.1 162.5 L523.8 160 L525.9 156.8 L527.8 153.8 L529.5 151.1 L531.1 148.5 L532.6 146 L534.4 143.1 L535.9 140.4 L537.4 137.8 L539 135 L540.8 132.1 L542.5 129.1 L544.1 126.1 L545.5 123 L547 119.8 L548.3 116.4 L549.6 113.1 L550.7 110 L551.9 106.4 L552.9 103.1 L553.7 100 L554.6 97.1 L555.4 94.5 L556 92 L556.8 88.4 L557.3 85 L557.7 81.6 L557.9 78 L558.1 74.8 L558.3 71.4 L558.4 69Z" fill="#000" opacity="0.1" filter="url(#bl)"/>
<ellipse cx="545.5" cy="438.3" rx="10.1" ry="3.9" fill="#0410b0"/>
</g>
<g clip-path="url(#c_aiii)">
<path d="M768.4 67.3 L767.5 71 L766.8 73.3 L766 76 L765.1 79 L764 82.3 L762.9 85.6 L761.6 88.9 L760.3 92 L758.8 95 L757.2 98 L755.5 101 L753.8 104 L752 107 L750.2 110 L748.3 113 L746.4 116 L744.3 119 L742.2 122 L740 125 L737.9 128 L735.7 131 L733.6 134 L731.4 137 L729.2 140 L727 143 L724.8 146 L722.7 149 L720.6 152 L718.8 155 L717 158 L715.4 161 L713.9 164 L712.5 167 L711.1 170 L709.8 173 L708.6 176 L707.5 179 L706.5 182 L705.6 185 L704.7 188 L703.9 191 L703.2 194 L702.6 197 L702.1 200 L701.7 203 L701.3 205.9 L701 208.9 L700.8 211.9 L700.5 214.9 L700.3 218 L700 221.1 L699.8 224.2 L699.6 227.4 L699.5 230.5 L699.3 233.7 L699.2 236.8 L699.1 240 L699 243.1 L699 246.1 L698.9 249 L698.9 252 L698.9 255.1 L698.9 258.4 L699 262 L699 264.7 L699.1 267.6 L699.2 270.6 L699.2 273.7 L699.3 276.9 L699.4 280 L699.5 283.2 L699.7 286.3 L699.9 289.2 L700.1 292 L700.4 295.3 L700.7 298.4 L701 301.4 L701.4 304.4 L701.8 307.3 L702.3 310.1 L702.9 313 L703.6 316 L704.3 319 L705.2 322 L706.1 325 L707.1 328 L708.2 331 L709.3 334 L710.5 337 L711.7 340 L712.9 343 L714.3 346 L715.7 349 L717.1 352 L718.6 355 L720.2 358 L721.8 361 L723.4 364 L725.2 367 L727.1 370 L729.1 373 L731.1 376 L733.1 379 L735.1 382 L737.1 385 L739 388 L740.9 391 L742.8 394 L744.7 397 L746.6 400 L748.4 403 L750.2 406 L752 409 L753.7 412 L755.5 415.1 L757.2 418.3 L758.9 421.5 L760.6 424.8 L762.2 427.9 L763.7 430.9 L765 433.6 L766.1 436 L767.5 440 L768.2 443.7 A10.7 3.8 0 0 0 789.6 443.7 L789.3 440 L788.3 436 L787.6 433.6 L786.7 430.9 L785.5 427.9 L784.2 424.8 L782.7 421.5 L781.2 418.3 L779.7 415.1 L778.2 412 L776.8 409 L775.3 406 L773.7 403 L772.1 400 L770.5 397 L768.8 394 L767.1 391 L765.3 388 L763.4 385 L761.5 382 L759.5 379 L757.5 376 L755.5 373 L753.5 370 L751.5 367 L749.7 364 L747.8 361 L745.9 358 L744.1 355 L742.3 352 L740.6 349 L738.9 346 L737.3 343 L735.8 340 L734.3 337 L732.9 334 L731.5 331 L730.2 328 L728.9 325 L727.7 322 L726.6 319 L725.7 316 L724.8 313 L724 310.1 L723.4 307.3 L722.8 304.4 L722.3 301.4 L721.8 298.4 L721.4 295.3 L721 292 L720.7 289.2 L720.5 286.3 L720.3 283.2 L720.1 280 L719.9 276.9 L719.8 273.7 L719.7 270.6 L719.6 267.6 L719.5 264.7 L719.4 262 L719.3 258.4 L719.3 255.1 L719.3 252 L719.3 249 L719.3 246.1 L719.4 243.1 L719.5 240 L719.6 236.8 L719.7 233.7 L719.9 230.5 L720.1 227.4 L720.3 224.2 L720.5 221.1 L720.8 218 L721.1 214.9 L721.4 211.9 L721.7 208.9 L722.1 205.9 L722.6 203 L723.2 200 L723.9 197 L724.7 194 L725.6 191 L726.7 188 L727.8 185 L729 182 L730.3 179 L731.8 176 L733.3 173 L734.9 170 L736.6 167 L738.4 164 L740.2 161 L742.2 158 L744 155 L746 152 L748.1 149 L750.2 146 L752.4 143 L754.5 140 L756.7 137 L758.7 134 L760.8 131 L762.8 128 L764.8 125 L766.7 122 L768.7 119 L770.6 116 L772.4 113 L774.2 110 L776 107 L777.7 104 L779.3 101 L780.8 98 L782.2 95 L783.3 92 L784.4 88.9 L785.4 85.6 L786.2 82.3 L787 79 L787.7 76 L788.3 73.3 L788.7 71 L789.1 67.3 A10.4 3.6 0 0 0 768.4 67.3 Z" fill="url(#g14)"/>
<g filter="url(#bl2)">
<path d="M781 63.7 L781 66 L780.2 71 L779.7 73.3 L779 76 L778.3 79 L777.4 82.3 L776.4 85.6 L775.3 88.9 L774.1 92 L772.8 95 L771.4 98 L769.8 101 L768.1 104 L766.4 107 L764.6 110 L762.8 113 L760.9 116 L758.9 119 L756.9 122 L754.9 125 L752.8 128 L750.7 131 L748.7 134 L746.6 137 L744.4 140 L742.2 143 L740 146 L737.9 149 L735.9 152 L733.9 155 L732.1 158 L730.3 161 L728.6 164 L726.9 167 L725.4 170 L723.9 173 L722.5 176 L735.2 176 L736.8 173 L738.4 170 L740.2 167 L742 164 L744 161 L745.9 158 L747.8 155 L749.8 152 L751.9 149 L754 146 L756.2 143 L758.3 140 L760.5 137 L762.5 134 L764.5 131 L766.5 128 L768.5 125 L770.4 122 L772.3 119 L774.2 116 L776 113 L777.8 110 L779.6 107 L781.3 104 L782.9 101 L784.4 98 L785.7 95 L786.8 92 L787.8 88.9 L788.7 85.6 L789.6 82.3 L790.3 79 L791 76 L791.5 73.3 L791.9 71 L792.3 66 L792.1 63.7Z" fill="url(#g15)"/>
<path d="M774.9 66 L773.9 71 L773.3 73.3 L772.5 76 L771.7 79 L770.7 82.3 L769.6 85.6 L768.5 88.9 L767.2 92 L765.8 95 L764.3 98 L762.7 101 L761 104 L759.2 107 L757.4 110 L755.5 113 L753.6 116 L751.6 119 L749.6 122 L747.5 125 L745.3 128 L743.2 131 L741.1 134 L739 137 L736.8 140 L734.6 143 L732.4 146 L730.3 149 L728.2 152 L726.3 155 L724.6 158 L722.9 161 L721.2 164 L729.8 164 L731.5 161 L733.4 158 L735.2 155 L737.1 152 L739.2 149 L741.3 146 L743.5 143 L745.7 140 L747.8 137 L749.9 134 L752 131 L754.1 128 L756.1 125 L758.2 122 L760.2 119 L762.1 116 L764 113 L765.8 110 L767.6 107 L769.3 104 L771 101 L772.6 98 L774 95 L775.3 92 L776.4 88.9 L777.5 85.6 L778.5 82.3 L779.4 79 L780.1 76 L780.8 73.3 L781.3 71 L782.1 66Z" fill="url(#g16)"/>
<path d="M760.6 85.6 L759.3 88.9 L757.9 92 L756.4 95 L754.8 98 L753.2 101 L751.4 104 L749.6 107 L747.8 110 L745.9 113 L743.9 116 L741.9 119 L739.8 122 L737.6 125 L735.4 128 L733.2 131 L731 134 L728.9 137 L726.7 140 L724.5 143 L722.3 146 L720.1 149 L718.1 152 L716.2 155 L714.5 158 L712.9 161 L711.4 164 L710 167 L708.7 170 L707.5 173 L715.7 173 L717 170 L718.5 167 L720 164 L721.6 161 L723.3 158 L725.1 155 L727 152 L729 149 L731.1 146 L733.3 143 L735.5 140 L737.7 137 L739.9 134 L742 131 L744.1 128 L746.2 125 L748.3 122 L750.4 119 L752.4 116 L754.3 113 L756.2 110 L758 107 L759.8 104 L761.5 101 L763.1 98 L764.6 95 L766 92 L767.3 88.9 L768.5 85.6Z" fill="url(#g17)"/>
<path d="M728.3 158 L726.6 161 L724.9 164 L723.3 167 L721.8 170 L720.4 173 L719 176 L717.8 179 L716.7 182 L715.6 185 L714.6 188 L713.7 191 L712.9 194 L712.2 197 L711.6 200 L711.1 203 L710.7 205.9 L725.2 205.9 L725.7 203 L726.3 200 L727.1 197 L727.9 194 L728.9 191 L730 188 L731.1 185 L732.4 182 L733.8 179 L735.2 176 L736.8 173 L738.4 170 L740.2 167 L742 164 L744 161 L745.9 158Z" fill="url(#g18)"/>
<path d="M738.7 364 L740.5 367 L742.4 370 L744.4 373 L746.4 376 L748.4 379 L750.4 382 L752.4 385 L754.3 388 L756.1 391 L757.9 394 L759.7 397 L761.4 400 L763.1 403 L764.8 406 L766.4 409 L767.9 412 L769.5 415.1 L771.1 418.3 L772.7 421.5 L774.3 424.8 L775.7 427.9 L777 430.9 L778.1 433.6 L779 436 L780.2 440 L780.6 443.2 L780.8 445.7 L792.8 445.7 L792.9 443.2 L792.6 440 L791.7 436 L791 433.6 L790.2 430.9 L789 427.9 L787.7 424.8 L786.3 421.5 L784.8 418.3 L783.3 415.1 L781.9 412 L780.5 409 L779 406 L777.5 403 L776 400 L774.4 397 L772.7 394 L771 391 L769.2 388 L767.4 385 L765.5 382 L763.5 379 L761.5 376 L759.4 373 L757.4 370 L755.5 367 L753.6 364Z" fill="url(#g19)"/>
<path d="M728.4 376 L730.4 379 L732.5 382 L734.5 385 L736.4 388 L738.3 391 L740.2 394 L742.1 397 L744 400 L745.9 403 L747.7 406 L749.5 409 L751.3 412 L753 415.1 L754.8 418.3 L756.5 421.5 L758.3 424.8 L759.9 427.9 L761.4 430.9 L762.7 433.6 L763.9 436 L765.4 440 L766 443.2 L766.4 445.7 L774.8 445.7 L774.6 443.2 L774.1 440 L772.8 436 L771.8 433.6 L770.6 430.9 L769.2 427.9 L767.7 424.8 L766.1 421.5 L764.4 418.3 L762.7 415.1 L761.1 412 L759.4 409 L757.7 406 L756 403 L754.2 400 L752.4 397 L750.6 394 L748.8 391 L746.9 388 L745 385 L743 382 L741 379 L739 376Z" fill="url(#g20)"/>
<path d="M743 382 L745 385 L746.9 388 L748.8 391 L750.6 394 L752.4 397 L754.2 400 L756 403 L757.7 406 L759.4 409 L761.1 412 L762.7 415.1 L764.4 418.3 L766.1 421.5 L767.7 424.8 L769.2 427.9 L770.6 430.9 L771.8 433.6 L772.8 436 L774.1 440 L774.6 443.2 L774.8 445.7 L780.1 445.7 L780 443.2 L779.5 440 L778.3 436 L777.4 433.6 L776.3 430.9 L775 427.9 L773.6 424.8 L772 421.5 L770.4 418.3 L768.8 415.1 L767.2 412 L765.6 409 L764 406 L762.3 403 L760.6 400 L758.9 397 L757.1 394 L755.3 391 L753.5 388 L751.6 385 L749.6 382Z" fill="url(#g21)"/>
</g><g filter="url(#bl)">
<ellipse cx="710" cy="270" rx="22" ry="60.5" transform="rotate(1 710 270)" fill="#8ee414" opacity="1"/>
<ellipse cx="710" cy="270" rx="21" ry="57.5" transform="rotate(1 710 270)" fill="#e4f010" opacity="1"/>
<ellipse cx="710" cy="270" rx="20" ry="55" transform="rotate(1 710 270)" fill="#f8b010" opacity="1"/>
<ellipse cx="710" cy="270" rx="19" ry="52.5" transform="rotate(1 710 270)" fill="#f85a0a" opacity="1"/>
<ellipse cx="709.5" cy="231" rx="6" ry="11" transform="rotate(0 709.5 231)" fill="#e83010" opacity="0.7"/>
<ellipse cx="711.6" cy="297" rx="10.5" ry="16.5" transform="rotate(-3 711.6 297)" fill="#e81a0e" opacity="1"/>
<ellipse cx="706.4" cy="262" rx="7.4" ry="20.5" transform="rotate(0 706.4 262)" fill="#e4f010" opacity="1"/>
<ellipse cx="705.6" cy="254" rx="5.6" ry="11" transform="rotate(0 705.6 254)" fill="#70e018" opacity="1"/>
<ellipse cx="707.4" cy="271" rx="4.6" ry="8" transform="rotate(0 707.4 271)" fill="#d8e818" opacity="1"/>
<ellipse cx="772.2" cy="436.5" rx="2.8" ry="6.5" transform="rotate(-18 772.2 436.5)" fill="#8ee414" opacity="1"/>
</g><g filter="url(#bl2)">
</g>
<path d="M785.8 63.7 L786 66 L785.3 71 L784.8 73.3 L784.3 76 L783.5 79 L782.7 82.3 L781.8 85.6 L780.8 88.9 L779.6 92 L778.4 95 L777 98 L775.5 101 L773.9 104 L772.2 107 L770.4 110 L768.5 113 L766.7 116 L764.8 119 L762.8 122 L760.8 125 L758.8 128 L756.8 131 L754.7 134 L752.6 137 L750.5 140 L748.3 143 L746.1 146 L744 149 L741.9 152 L740 155 L738.1 158 L736.3 161 L734.5 164 L732.7 167 L731.1 170 L729.5 173 L728.1 176 L726.7 179 L725.4 182 L724.3 185 L723.2 188 L722.2 191 L721.3 194 L720.5 197 L719.8 200 L719.2 203 L718.8 205.9 L718.4 208.9 L718.1 211.9 L717.8 214.9 L717.5 218 L717.3 221.1 L717 224.2 L716.8 227.4 L716.6 230.5 L716.5 233.7 L716.3 236.8 L716.2 240 L716.1 243.1 L716.1 246.1 L716 249 L716 252 L716 255.1 L716.1 258.4 L716.1 262 L716.2 264.7 L716.3 267.6 L716.4 270.6 L716.5 273.7 L716.6 276.9 L716.8 280 L717 283.2 L717.2 286.3 L717.4 289.2 L717.7 292 L718.1 295.3 L718.4 298.4 L718.9 301.4 L719.4 304.4 L719.9 307.3 L720.6 310.1 L721.3 313 L722.1 316 L723.1 319 L724.1 322 L725.3 325 L726.5 328 L727.8 331 L729.1 334 L730.5 337 L731.9 340 L733.4 343 L735 346 L736.6 349 L738.3 352 L740 355 L741.8 358 L743.6 361 L745.5 364 L747.3 367 L749.3 370 L751.2 373 L753.3 376 L755.3 379 L757.3 382 L759.2 385 L761.1 388 L762.9 391 L764.7 394 L766.4 397 L768 400 L769.7 403 L771.3 406 L772.8 409 L774.3 412 L775.8 415.1 L777.4 418.3 L778.9 421.5 L780.4 424.8 L781.8 427.9 L783 430.9 L784 433.6 L784.8 436 L785.8 440 L786.2 443.2 L786.3 445.7 L786.4 447.5 L792.9 447.5 L792.8 445.7 L792.9 443.2 L792.6 440 L791.7 436 L791 433.6 L790.2 430.9 L789 427.9 L787.7 424.8 L786.3 421.5 L784.8 418.3 L783.3 415.1 L781.9 412 L780.5 409 L779 406 L777.5 403 L776 400 L774.4 397 L772.7 394 L771 391 L769.2 388 L767.4 385 L765.5 382 L763.5 379 L761.5 376 L759.4 373 L757.4 370 L755.5 367 L753.6 364 L751.7 361 L749.8 358 L748 355 L746.1 352 L744.4 349 L742.6 346 L741 343 L739.4 340 L737.9 337 L736.4 334 L735 331 L733.6 328 L732.3 325 L731.1 322 L730 319 L729 316 L728.1 313 L727.3 310.1 L726.6 307.3 L726 304.4 L725.5 301.4 L725 298.4 L724.6 295.3 L724.2 292 L723.9 289.2 L723.6 286.3 L723.4 283.2 L723.2 280 L723 276.9 L722.9 273.7 L722.7 270.6 L722.6 267.6 L722.5 264.7 L722.5 262 L722.4 258.4 L722.3 255.1 L722.3 252 L722.3 249 L722.4 246.1 L722.5 243.1 L722.6 240 L722.7 236.8 L722.8 233.7 L723 230.5 L723.1 227.4 L723.4 224.2 L723.6 221.1 L723.9 218 L724.2 214.9 L724.5 211.9 L724.8 208.9 L725.2 205.9 L725.7 203 L726.3 200 L727.1 197 L727.9 194 L728.9 191 L730 188 L731.1 185 L732.4 182 L733.8 179 L735.2 176 L736.8 173 L738.4 170 L740.2 167 L742 164 L744 161 L745.9 158 L747.8 155 L749.8 152 L751.9 149 L754 146 L756.2 143 L758.3 140 L760.5 137 L762.5 134 L764.5 131 L766.5 128 L768.5 125 L770.4 122 L772.3 119 L774.2 116 L776 113 L777.8 110 L779.6 107 L781.3 104 L782.9 101 L784.4 98 L785.7 95 L786.8 92 L787.8 88.9 L788.7 85.6 L789.6 82.3 L790.3 79 L791 76 L791.5 73.3 L791.9 71 L792.3 66 L792.1 63.7Z" fill="#000" opacity="0.1" filter="url(#bl)"/>
<ellipse cx="779.2" cy="443.8" rx="9.8" ry="3.6" fill="#0848b4"/>
</g>
<g clip-path="url(#c_bi)">
<path d="M308.5 568.1 L308.2 572 L307.8 574.4 L307.4 577.3 L306.8 580.5 L306.2 583.9 L305.4 587.3 L304.6 590.7 L303.7 594 L302.6 597.1 L301.5 600.3 L300.2 603.4 L298.9 606.6 L297.5 609.7 L296 612.9 L294.4 616 L292.6 619.1 L290.7 622.3 L288.8 625.4 L286.9 628.6 L284.9 631.7 L282.9 634.9 L280.9 638 L278.9 641.1 L276.9 644.3 L274.8 647.4 L272.7 650.6 L270.7 653.7 L268.6 656.9 L266.6 660 L264.6 663.1 L262.6 666.3 L260.7 669.4 L258.7 672.6 L256.9 675.7 L255.1 678.9 L253.4 682 L251.9 685.1 L250.4 688.3 L248.9 691.4 L247.6 694.6 L246.3 697.7 L245 700.9 L243.9 704 L242.8 707.1 L241.7 710.3 L240.7 713.4 L239.8 716.6 L239 719.7 L238.2 722.9 L237.5 726 L236.9 729.2 L236.3 732.5 L235.8 735.8 L235.4 739.1 L235 742.3 L234.7 745.3 L234.5 748 L234.2 751.2 L234.1 753.8 L234.1 756.2 L234.2 758.8 L234.5 762 L234.7 764.7 L235 767.7 L235.3 770.9 L235.7 774.2 L236.2 777.5 L236.8 780.8 L237.5 784 L238.3 787.1 L239.1 790.3 L240.1 793.4 L241.2 796.6 L242.4 799.7 L243.6 802.9 L244.9 806 L246.2 809.1 L247.6 812.3 L249.1 815.4 L250.6 818.6 L252.2 821.7 L253.9 824.9 L255.6 828 L257.3 831.1 L259.1 834.3 L261 837.4 L262.9 840.6 L264.8 843.7 L266.8 846.9 L268.8 850 L270.8 853.1 L272.8 856.3 L274.9 859.4 L277 862.6 L279.1 865.7 L281.1 868.9 L283.1 872 L285 875.1 L286.9 878.3 L288.8 881.4 L290.6 884.6 L292.4 887.7 L294 890.9 L295.6 894 L297 897.1 L298.4 900.3 L299.6 903.4 L300.7 906.6 L301.8 909.7 L302.8 912.9 L303.7 916 L304.5 919.3 L305.4 922.7 L306.1 926.1 L306.7 929.5 L307.3 932.7 L307.8 935.6 L308.2 938 L308.6 942.5 A11 3.8 0 0 0 330.5 942.5 L330.2 938 L330 935.6 L329.7 932.7 L329.3 929.5 L328.8 926.1 L328.3 922.7 L327.7 919.3 L327.1 916 L326.4 912.9 L325.7 909.7 L324.9 906.6 L324 903.4 L323.1 900.3 L322.1 897.1 L321 894 L319.8 890.9 L318.5 887.7 L317.1 884.6 L315.6 881.4 L314.1 878.3 L312.4 875.1 L310.7 872 L308.9 868.9 L306.9 865.7 L304.8 862.6 L302.7 859.4 L300.6 856.3 L298.4 853.1 L296.3 850 L294.3 846.9 L292.2 843.7 L290.1 840.6 L288 837.4 L285.9 834.3 L283.9 831.1 L281.9 828 L280 824.9 L278.1 821.7 L276.2 818.6 L274.4 815.4 L272.6 812.3 L270.9 809.1 L269.3 806 L267.7 802.9 L266.2 799.7 L264.7 796.6 L263.4 793.4 L262.1 790.3 L260.9 787.1 L259.8 784 L259 780.8 L258.3 777.5 L257.7 774.2 L257.2 770.9 L256.9 767.7 L256.6 764.7 L256.3 762 L256.1 758.8 L255.9 756.2 L256 753.8 L256.1 751.2 L256.4 748 L256.7 745.3 L257 742.3 L257.4 739.1 L257.8 735.8 L258.4 732.5 L259 729.2 L259.8 726 L260.7 722.9 L261.7 719.7 L262.8 716.6 L264 713.4 L265.3 710.3 L266.6 707.1 L268 704 L269.5 700.9 L271 697.7 L272.6 694.6 L274.3 691.4 L276 688.3 L277.7 685.1 L279.5 682 L281.4 678.9 L283.3 675.7 L285.2 672.6 L287.1 669.4 L289.1 666.3 L291 663.1 L293 660 L295 656.9 L297.1 653.7 L299.1 650.6 L301.2 647.4 L303.3 644.3 L305.4 641.1 L307.4 638 L309.4 634.9 L311.4 631.7 L313.4 628.6 L315.4 625.4 L317.1 622.3 L318.7 619.1 L320.2 616 L321.4 612.9 L322.6 609.7 L323.7 606.6 L324.7 603.4 L325.6 600.3 L326.4 597.1 L327.2 594 L327.8 590.7 L328.4 587.3 L328.9 583.9 L329.3 580.5 L329.7 577.3 L330 574.4 L330.2 572 L330.4 568.1 A11 4.4 0 0 0 308.5 568.1 Z" fill="url(#g22)"/>
<g filter="url(#bl2)">
<path d="M318.8 563.7 L318.9 565.3 L319 567.9 L318.8 572 L318.5 574.4 L318.1 577.3 L317.6 580.5 L317.1 583.9 L316.5 587.3 L315.7 590.7 L314.9 594 L314 597.1 L313.1 600.3 L312 603.4 L310.8 606.6 L309.6 609.7 L308.2 612.9 L306.7 616 L305.1 619.1 L303.4 622.3 L301.6 625.4 L299.6 628.6 L297.6 631.7 L295.6 634.9 L293.6 638 L291.6 641.1 L289.6 644.3 L287.5 647.4 L285.4 650.6 L283.3 653.7 L281.3 656.9 L279.3 660 L296.9 660 L299 656.9 L301 653.7 L303.1 650.6 L305.2 647.4 L307.3 644.3 L309.4 641.1 L311.4 638 L313.4 634.9 L315.4 631.7 L317.4 628.6 L319.4 625.4 L321.1 622.3 L322.6 619.1 L324 616 L325.3 612.9 L326.4 609.7 L327.4 606.6 L328.4 603.4 L329.2 600.3 L330 597.1 L330.7 594 L331.3 590.7 L331.9 587.3 L332.3 583.9 L332.7 580.5 L333.1 577.3 L333.3 574.4 L333.5 572 L333.7 567.9 L333.6 565.3 L333.5 563.7Z" fill="url(#g23)"/>
<path d="M303.1 587.3 L302.3 590.7 L301.3 594 L300.2 597.1 L299.1 600.3 L297.8 603.4 L296.4 606.6 L295 609.7 L293.4 612.9 L291.8 616 L290 619.1 L288.1 622.3 L286.1 625.4 L284.2 628.6 L282.2 631.7 L298.1 631.7 L300.1 628.6 L302.1 625.4 L303.9 622.3 L305.7 619.1 L307.3 616 L308.7 612.9 L310.1 609.7 L311.3 606.6 L312.5 603.4 L313.5 600.3 L314.5 597.1 L315.4 594 L316.2 590.7 L316.9 587.3Z" fill="url(#g24)"/>
<path d="M284.2 628.6 L282.2 631.7 L280.2 634.9 L278.3 638 L276.3 641.1 L274.2 644.3 L272.2 647.4 L270.1 650.6 L268 653.7 L266 656.9 L264 660 L262 663.1 L260 666.3 L258 669.4 L256.1 672.6 L254.2 675.7 L252.5 678.9 L250.8 682 L269.1 682 L270.9 678.9 L272.7 675.7 L274.6 672.6 L276.5 669.4 L278.5 666.3 L280.5 663.1 L282.4 660 L284.4 656.9 L286.5 653.7 L288.6 650.6 L290.7 647.4 L292.7 644.3 L294.8 641.1 L296.8 638 L298.8 634.9 L300.8 631.7 L302.8 628.6Z" fill="url(#g25)"/>
<path d="M285.9 650.6 L283.9 653.7 L281.8 656.9 L279.8 660 L277.8 663.1 L275.9 666.3 L273.9 669.4 L272 672.6 L270.1 675.7 L268.3 678.9 L266.5 682 L264.8 685.1 L263.2 688.3 L279.8 688.3 L281.6 685.1 L283.5 682 L285.3 678.9 L287.3 675.7 L289.2 672.6 L291.1 669.4 L293 666.3 L295 663.1 L296.9 660 L299 656.9 L301 653.7 L303.1 650.6Z" fill="url(#g26)"/>
<path d="M240.7 756.2 L240.8 758.8 L241 762 L241.3 764.7 L241.6 767.7 L241.9 770.9 L242.3 774.2 L242.8 777.5 L243.5 780.8 L244.2 784 L245 787.1 L246 790.3 L247.1 793.4 L248.3 796.6 L249.5 799.7 L250.8 802.9 L252.2 806 L253.6 809.1 L255.1 812.3 L256.7 815.4 L258.3 818.6 L260 821.7 L261.7 824.9 L263.5 828 L265.3 831.1 L267.1 834.3 L280 834.3 L278.1 831.1 L276.1 828 L274.2 824.9 L272.4 821.7 L270.6 818.6 L268.8 815.4 L267.1 812.3 L265.5 809.1 L263.9 806 L262.4 802.9 L261 799.7 L259.6 796.6 L258.2 793.4 L257 790.3 L255.9 787.1 L254.9 784 L254.1 780.8 L253.4 777.5 L252.9 774.2 L252.4 770.9 L252.1 767.7 L251.8 764.7 L251.5 762 L251.3 758.8 L251.1 756.2Z" fill="url(#g27)"/>
<path d="M263.1 812.3 L264.8 815.4 L266.5 818.6 L268.2 821.7 L270.1 824.9 L271.9 828 L273.8 831.1 L275.7 834.3 L277.7 837.4 L279.7 840.6 L281.8 843.7 L283.8 846.9 L285.9 850 L287.9 853.1 L290 856.3 L292.1 859.4 L294.3 862.6 L296.3 865.7 L298.3 868.9 L300.2 872 L302 875.1 L303.8 878.3 L305.4 881.4 L307.1 884.6 L308.6 887.7 L310 890.9 L311.4 894 L312.6 897.1 L313.7 900.3 L314.7 903.4 L315.7 906.6 L316.6 909.7 L317.4 912.9 L318.2 916 L318.9 919.3 L319.6 922.7 L320.2 926.1 L320.7 929.5 L321.2 932.7 L321.5 935.6 L321.9 938 L322.2 942.1 L322.1 944.7 L333.8 944.7 L333.8 942.1 L333.5 938 L333.3 935.6 L333 932.7 L332.6 929.5 L332.2 926.1 L331.8 922.7 L331.2 919.3 L330.6 916 L330 912.9 L329.3 909.7 L328.5 906.6 L327.7 903.4 L326.8 900.3 L325.9 897.1 L324.8 894 L323.7 890.9 L322.4 887.7 L321.1 884.6 L319.7 881.4 L318.1 878.3 L316.5 875.1 L314.9 872 L313 868.9 L311 865.7 L309 862.6 L306.9 859.4 L304.7 856.3 L302.6 853.1 L300.5 850 L298.4 846.9 L296.3 843.7 L294.1 840.6 L292 837.4 L290 834.3 L287.9 831.1 L285.9 828 L283.9 824.9 L281.9 821.7 L280 818.6 L278.2 815.4 L276.3 812.3Z" fill="url(#g28)"/>
<path d="M295.1 878.3 L296.8 881.4 L298.6 884.6 L300.2 887.7 L301.8 890.9 L303.2 894 L304.6 897.1 L305.8 900.3 L306.9 903.4 L308 906.6 L308.9 909.7 L309.9 912.9 L310.7 916 L311.5 919.3 L312.2 922.7 L312.9 926.1 L313.5 929.5 L314 932.7 L314.4 935.6 L314.8 938 L315.2 942.1 L315.1 944.7 L323.9 944.7 L323.9 942.1 L323.6 938 L323.3 935.6 L323 932.7 L322.5 929.5 L322 926.1 L321.4 922.7 L320.8 919.3 L320.1 916 L319.3 912.9 L318.5 909.7 L317.6 906.6 L316.7 903.4 L315.7 900.3 L314.6 897.1 L313.4 894 L312.1 890.9 L310.7 887.7 L309.2 884.6 L307.6 881.4 L305.9 878.3Z" fill="url(#g29)"/>
<path d="M233.2 770.9 L233.6 774.2 L234 777.5 L234.6 780.8 L235.2 784 L236 787.1 L236.9 790.3 L237.8 793.4 L238.9 796.6 L240 799.7 L241.2 802.9 L242.4 806 L243.7 809.1 L245.1 812.3 L246.6 815.4 L248.1 818.6 L249.6 821.7 L251.3 824.9 L252.9 828 L254.6 831.1 L256.4 834.3 L258.3 837.4 L260.2 840.6 L262.1 843.7 L264 846.9 L266 850 L268 853.1 L270.1 856.3 L272.2 859.4 L274.2 862.6 L276.3 865.7 L278.3 868.9 L280.3 872 L282.3 875.1 L284.2 878.3 L286.1 881.4 L288 884.6 L289.8 887.7 L291.5 890.9 L293.1 894 L294.5 897.1 L295.9 900.3 L297.1 903.4 L298.3 906.6 L299.4 909.7 L300.4 912.9 L301.3 916 L302.2 919.3 L303.1 922.7 L303.8 926.1 L310.6 926.1 L309.9 922.7 L309.2 919.3 L308.4 916 L307.5 912.9 L306.6 909.7 L305.6 906.6 L304.5 903.4 L303.3 900.3 L302 897.1 L300.7 894 L299.2 890.9 L297.6 887.7 L295.9 884.6 L294.2 881.4 L292.3 878.3 L290.5 875.1 L288.6 872 L286.7 868.9 L284.7 865.7 L282.6 862.6 L280.5 859.4 L278.4 856.3 L276.3 853.1 L274.3 850 L272.3 846.9 L270.3 843.7 L268.3 840.6 L266.4 837.4 L264.5 834.3 L262.6 831.1 L260.8 828 L259.1 824.9 L257.4 821.7 L255.7 818.6 L254.1 815.4 L252.6 812.3 L251.1 809.1 L249.8 806 L248.4 802.9 L247.1 799.7 L245.9 796.6 L244.8 793.4 L243.7 790.3 L242.8 787.1 L241.9 784 L241.2 780.8 L240.6 777.5 L240.1 774.2 L239.7 770.9Z" fill="url(#g30)"/>
<path d="M267.7 837.4 L269.7 840.6 L271.7 843.7 L273.7 846.9 L275.7 850 L277.7 853.1 L279.8 856.3 L281.9 859.4 L284 862.6 L286 865.7 L288.1 868.9 L290 872 L291.9 875.1 L293.7 878.3 L295.5 881.4 L297.2 884.6 L298.9 887.7 L308.1 887.7 L306.5 884.6 L304.9 881.4 L303.2 878.3 L301.5 875.1 L299.7 872 L297.8 868.9 L295.8 865.7 L293.7 862.6 L291.6 859.4 L289.5 856.3 L287.4 853.1 L285.3 850 L283.3 846.9 L281.2 843.7 L279.2 840.6 L277.2 837.4Z" fill="url(#g31)"/>
</g><g filter="url(#bl)">
</g><g filter="url(#bl2)">
</g>
<path d="M326.7 563.7 L326.8 565.3 L326.9 567.9 L326.7 572 L326.4 574.4 L326.1 577.3 L325.7 580.5 L325.3 583.9 L324.7 587.3 L324.1 590.7 L323.4 594 L322.6 597.1 L321.7 600.3 L320.8 603.4 L319.7 606.6 L318.6 609.7 L317.4 612.9 L316 616 L314.5 619.1 L312.9 622.3 L311.1 625.4 L309.2 628.6 L307.2 631.7 L305.2 634.9 L303.2 638 L301.2 641.1 L299.1 644.3 L297 647.4 L294.9 650.6 L292.8 653.7 L290.8 656.9 L288.8 660 L286.8 663.1 L284.8 666.3 L282.9 669.4 L281 672.6 L279.1 675.7 L277.2 678.9 L275.4 682 L273.6 685.1 L271.9 688.3 L270.2 691.4 L268.6 694.6 L267 697.7 L265.6 700.9 L264.1 704 L262.8 707.1 L261.5 710.3 L260.3 713.4 L259.1 716.6 L258.1 719.7 L257.1 722.9 L256.2 726 L255.5 729.2 L254.8 732.5 L254.3 735.8 L253.9 739.1 L253.5 742.3 L253.2 745.3 L252.9 748 L252.6 751.2 L252.5 753.8 L252.5 756.2 L252.6 758.8 L252.8 762 L253.1 764.7 L253.4 767.7 L253.7 770.9 L254.2 774.2 L254.7 777.5 L255.4 780.8 L256.3 784 L257.3 787.1 L258.4 790.3 L259.6 793.4 L261 796.6 L262.4 799.7 L263.9 802.9 L265.4 806 L266.9 809.1 L268.6 812.3 L270.3 815.4 L272.1 818.6 L273.9 821.7 L275.8 824.9 L277.7 828 L279.7 831.1 L281.6 834.3 L283.7 837.4 L285.7 840.6 L287.8 843.7 L289.9 846.9 L291.9 850 L294 853.1 L296.1 856.3 L298.2 859.4 L300.4 862.6 L302.4 865.7 L304.4 868.9 L306.3 872 L308 875.1 L309.7 878.3 L311.3 881.4 L312.9 884.6 L314.3 887.7 L315.7 890.9 L316.9 894 L318.1 897.1 L319.1 900.3 L320.1 903.4 L321 906.6 L321.9 909.7 L322.6 912.9 L323.4 916 L324 919.3 L324.6 922.7 L325.2 926.1 L325.7 929.5 L326.1 932.7 L326.4 935.6 L326.7 938 L327 942.1 L327 944.7 L326.9 946.3 L333.7 946.3 L333.8 944.7 L333.8 942.1 L333.5 938 L333.3 935.6 L333 932.7 L332.6 929.5 L332.2 926.1 L331.8 922.7 L331.2 919.3 L330.6 916 L330 912.9 L329.3 909.7 L328.5 906.6 L327.7 903.4 L326.8 900.3 L325.9 897.1 L324.8 894 L323.7 890.9 L322.4 887.7 L321.1 884.6 L319.7 881.4 L318.1 878.3 L316.5 875.1 L314.9 872 L313 868.9 L311 865.7 L309 862.6 L306.9 859.4 L304.7 856.3 L302.6 853.1 L300.5 850 L298.4 846.9 L296.3 843.7 L294.1 840.6 L292 837.4 L290 834.3 L287.9 831.1 L285.9 828 L283.9 824.9 L281.9 821.7 L280 818.6 L278.2 815.4 L276.3 812.3 L274.6 809.1 L272.9 806 L271.3 802.9 L269.8 799.7 L268.3 796.6 L266.8 793.4 L265.5 790.3 L264.3 787.1 L263.2 784 L262.3 780.8 L261.6 777.5 L261 774.2 L260.5 770.9 L260.2 767.7 L259.9 764.7 L259.6 762 L259.3 758.8 L259.2 756.2 L259.3 753.8 L259.4 751.2 L259.7 748 L260 745.3 L260.3 742.3 L260.7 739.1 L261.1 735.8 L261.7 732.5 L262.3 729.2 L263.1 726 L264.1 722.9 L265.1 719.7 L266.3 716.6 L267.5 713.4 L268.8 710.3 L270.2 707.1 L271.6 704 L273.1 700.9 L274.7 697.7 L276.4 694.6 L278.1 691.4 L279.8 688.3 L281.6 685.1 L283.5 682 L285.3 678.9 L287.3 675.7 L289.2 672.6 L291.1 669.4 L293 666.3 L295 663.1 L296.9 660 L299 656.9 L301 653.7 L303.1 650.6 L305.2 647.4 L307.3 644.3 L309.4 641.1 L311.4 638 L313.4 634.9 L315.4 631.7 L317.4 628.6 L319.4 625.4 L321.1 622.3 L322.6 619.1 L324 616 L325.3 612.9 L326.4 609.7 L327.4 606.6 L328.4 603.4 L329.2 600.3 L330 597.1 L330.7 594 L331.3 590.7 L331.9 587.3 L332.3 583.9 L332.7 580.5 L333.1 577.3 L333.3 574.4 L333.5 572 L333.7 567.9 L333.6 565.3 L333.5 563.7Z" fill="#000" opacity="0.1" filter="url(#bl)"/>
<ellipse cx="319.4" cy="942.5" rx="10.6" ry="3.7" fill="#0410b0"/>
</g>
<g clip-path="url(#c_bii)">
<path d="M559.9 562.3 L559.8 562.9 L559.1 567 L558.5 569.4 L557.9 572.3 L557.2 575.5 L556.4 578.9 L555.5 582.3 L554.5 585.7 L553.4 589 L552.2 592.1 L550.9 595.3 L549.4 598.4 L548 601.6 L546.4 604.7 L544.8 607.9 L543.1 611 L541.3 614.1 L539.5 617.3 L537.5 620.4 L535.5 623.6 L533.5 626.7 L531.5 629.9 L529.6 633 L527.6 636.1 L525.5 639.3 L523.5 642.4 L521.4 645.6 L519.4 648.7 L517.3 651.9 L515.3 655 L513.2 658.1 L511 661.3 L508.9 664.4 L506.8 667.6 L504.7 670.7 L502.8 673.9 L501 677 L499.4 680.1 L497.9 683.3 L496.4 686.4 L495.1 689.6 L493.8 692.7 L492.6 695.9 L491.5 699 L490.5 702.1 L489.5 705.3 L488.7 708.4 L488 711.6 L487.3 714.7 L486.7 717.9 L486.2 721 L485.9 724.2 L485.6 727.4 L485.4 730.6 L485.4 733.8 L485.3 736.9 L485.3 740 L485.2 743 L485.1 746.3 L485 749.4 L485 752.5 L485 755.6 L485.1 758.7 L485.2 762 L485.4 765 L485.6 768.1 L485.8 771.2 L486.1 774.4 L486.4 777.6 L486.8 780.8 L487.3 784 L487.9 787.1 L488.5 790.3 L489.1 793.4 L489.8 796.6 L490.6 799.7 L491.5 802.9 L492.6 806 L493.8 809.1 L495.1 812.3 L496.6 815.4 L498.2 818.6 L499.8 821.7 L501.5 824.9 L503.2 828 L505 831.1 L506.8 834.3 L508.7 837.4 L510.6 840.6 L512.5 843.7 L514.5 846.9 L516.4 850 L518.2 853.1 L520.2 856.3 L522.1 859.4 L524 862.6 L525.9 865.7 L527.8 868.9 L529.6 872 L531.5 875.1 L533.4 878.3 L535.2 881.4 L537 884.6 L538.8 887.7 L540.5 890.9 L542.1 894 L543.7 897.1 L545.1 900.3 L546.5 903.4 L547.8 906.6 L549 909.7 L550.1 912.9 L551.2 916 L552.2 919.2 L553.2 922.5 L554 925.9 L554.8 929.1 L555.6 932.3 L556.2 935.3 L556.8 938 L557.5 941.5 L558.1 944.8 L558.5 947.7 L558.7 949 A11.2 2.8 0 0 0 581.1 949 L581.1 947.7 L581 944.8 L580.7 941.5 L580.2 938 L579.7 935.3 L579.1 932.3 L578.4 929.1 L577.6 925.9 L576.7 922.5 L575.9 919.2 L575 916 L574 912.9 L573.1 909.7 L572.1 906.6 L571.1 903.4 L570 900.3 L568.8 897.1 L567.6 894 L566.3 890.9 L564.9 887.7 L563.5 884.6 L562 881.4 L560.4 878.3 L558.8 875.1 L557.1 872 L555.4 868.9 L553.6 865.7 L551.8 862.6 L549.9 859.4 L548 856.3 L546 853.1 L544 850 L542 846.9 L539.9 843.7 L537.8 840.6 L535.7 837.4 L533.6 834.3 L531.5 831.1 L529.6 828 L527.6 824.9 L525.6 821.7 L523.7 818.6 L521.8 815.4 L520 812.3 L518.3 809.1 L516.7 806 L515.3 802.9 L514.1 799.7 L513 796.6 L512 793.4 L511.1 790.3 L510.4 787.1 L509.6 784 L509 780.8 L508.4 777.6 L507.9 774.4 L507.5 771.2 L507.2 768.1 L506.9 765 L506.6 762 L506.4 758.7 L506.2 755.6 L506.1 752.5 L506 749.4 L506.1 746.3 L506.2 743 L506.4 740 L506.6 736.9 L506.9 733.8 L507.2 730.6 L507.7 727.4 L508.2 724.2 L508.9 721 L509.7 717.9 L510.7 714.7 L511.7 711.6 L512.8 708.4 L514 705.3 L515.3 702.1 L516.7 699 L518.1 695.9 L519.6 692.7 L521.2 689.6 L522.9 686.4 L524.7 683.3 L526.5 680.1 L528.4 677 L530.4 673.9 L532.4 670.7 L534.5 667.6 L536.6 664.4 L538.7 661.3 L540.9 658.1 L542.9 655 L545 651.9 L547.1 648.7 L549.2 645.6 L551.3 642.4 L553.3 639.3 L555.3 636.1 L557.2 633 L559.1 629.9 L561 626.7 L562.7 623.6 L564.4 620.4 L566 617.3 L567.5 614.1 L569 611 L570.5 607.9 L571.9 604.7 L573.2 601.6 L574.5 598.4 L575.7 595.3 L576.7 592.1 L577.6 589 L578.3 585.7 L578.9 582.3 L579.4 578.9 L579.8 575.5 L580.2 572.3 L580.5 569.4 L580.8 567 L581.2 562.9 L581.2 562.3 A10.6 3.6 0 0 0 559.9 562.3 Z" fill="url(#g32)"/>
<g filter="url(#bl2)">
<path d="M569 558.7 L568.9 560.3 L568.8 562.9 L568.2 567 L567.8 569.4 L567.3 572.3 L566.7 575.5 L566.1 578.9 L565.3 582.3 L564.5 585.7 L563.5 589 L562.5 592.1 L561.3 595.3 L560 598.4 L558.6 601.6 L557.1 604.7 L555.6 607.9 L554 611 L552.4 614.1 L550.6 617.3 L548.8 620.4 L547 623.6 L545.1 626.7 L543.1 629.9 L541.2 633 L539.2 636.1 L537.2 639.3 L535.2 642.4 L533.1 645.6 L531 648.7 L528.9 651.9 L526.9 655 L524.8 658.1 L522.7 661.3 L520.5 664.4 L518.4 667.6 L516.4 670.7 L514.4 673.9 L512.5 677 L510.8 680.1 L509.1 683.3 L507.5 686.4 L506 689.6 L504.6 692.7 L503.3 695.9 L502.1 699 L500.9 702.1 L499.8 705.3 L498.8 708.4 L497.9 711.6 L497.1 714.7 L496.4 717.9 L495.8 721 L512.3 721 L513.2 717.9 L514.2 714.7 L515.3 711.6 L516.4 708.4 L517.7 705.3 L519 702.1 L520.5 699 L521.9 695.9 L523.5 692.7 L525.2 689.6 L526.9 686.4 L528.7 683.3 L530.6 680.1 L532.5 677 L534.6 673.9 L536.6 670.7 L538.6 667.6 L540.8 664.4 L542.9 661.3 L545 658.1 L547.1 655 L549.2 651.9 L551.3 648.7 L553.4 645.6 L555.4 642.4 L557.5 639.3 L559.5 636.1 L561.4 633 L563.3 629.9 L565.1 626.7 L566.8 623.6 L568.4 620.4 L570 617.3 L571.5 614.1 L572.9 611 L574.3 607.9 L575.7 604.7 L577 601.6 L578.3 598.4 L579.4 595.3 L580.4 592.1 L581.2 589 L581.9 585.7 L582.4 582.3 L582.9 578.9 L583.2 575.5 L583.5 572.3 L583.8 569.4 L584 567 L584.4 562.9 L584.4 560.3 L584.4 558.7Z" fill="url(#g33)"/>
<path d="M522.2 828 L524.1 831.1 L526.1 834.3 L528.1 837.4 L530.2 840.6 L532.3 843.7 L534.3 846.9 L536.3 850 L538.2 853.1 L540.2 856.3 L542.1 859.4 L544 862.6 L545.9 865.7 L547.7 868.9 L549.4 872 L551.1 875.1 L552.8 878.3 L554.5 881.4 L556.1 884.6 L557.6 887.7 L559.1 890.9 L560.5 894 L561.8 897.1 L563 900.3 L564.2 903.4 L565.3 906.6 L566.3 909.7 L567.3 912.9 L568.3 916 L569.2 919.2 L570.1 922.5 L571 925.9 L571.8 929.1 L572.5 932.3 L573.1 935.3 L573.7 938 L574.2 941.5 L574.6 944.8 L574.8 947.7 L574.9 950.1 L584.5 950.1 L584.5 947.7 L584.4 944.8 L584.2 941.5 L583.7 938 L583.2 935.3 L582.6 932.3 L581.9 929.1 L581.1 925.9 L580.3 922.5 L579.4 919.2 L578.5 916 L577.6 912.9 L576.7 909.7 L575.7 906.6 L574.7 903.4 L573.7 900.3 L572.6 897.1 L571.4 894 L570.2 890.9 L568.9 887.7 L567.5 884.6 L566 881.4 L564.5 878.3 L562.9 875.1 L561.2 872 L559.5 868.9 L557.8 865.7 L556 862.6 L554.1 859.4 L552.1 856.3 L550.2 853.1 L548.2 850 L546.2 846.9 L544 843.7 L541.9 840.6 L539.7 837.4 L537.6 834.3 L535.5 831.1 L533.5 828Z" fill="url(#g34)"/>
<path d="M535.5 856.3 L537.4 859.4 L539.3 862.6 L541.1 865.7 L543 868.9 L544.7 872 L546.5 875.1 L548.2 878.3 L549.9 881.4 L551.6 884.6 L553.2 887.7 L554.7 890.9 L556.1 894 L557.5 897.1 L558.8 900.3 L560 903.4 L561.1 906.6 L562.2 909.7 L563.3 912.9 L564.3 916 L565.2 919.2 L566.1 922.5 L567 925.9 L567.8 929.1 L568.5 932.3 L569.2 935.3 L569.7 938 L570.3 941.5 L570.7 944.8 L570.9 947.7 L571.1 950.1 L575.6 950.1 L575.4 947.7 L575.2 944.8 L574.9 941.5 L574.4 938 L573.8 935.3 L573.2 932.3 L572.5 929.1 L571.7 925.9 L570.8 922.5 L569.9 919.2 L569 916 L568.1 912.9 L567.1 909.7 L566 906.6 L564.9 903.4 L563.7 900.3 L562.5 897.1 L561.2 894 L559.9 890.9 L558.4 887.7 L556.9 884.6 L555.3 881.4 L553.6 878.3 L552 875.1 L550.2 872 L548.5 868.9 L546.7 865.7 L544.8 862.6 L542.9 859.4 L541 856.3Z" fill="url(#g35)"/>
<path d="M538 890.9 L539.6 894 L541.1 897.1 L542.6 900.3 L544 903.4 L545.3 906.6 L546.6 909.7 L547.7 912.9 L548.8 916 L549.9 919.2 L550.8 922.5 L551.7 925.9 L552.5 929.1 L553.2 932.3 L553.9 935.3 L554.5 938 L555.2 941.5 L555.8 944.8 L556.3 947.7 L556.6 950.1 L563.7 950.1 L563.5 947.7 L563.1 944.8 L562.6 941.5 L562 938 L561.4 935.3 L560.7 932.3 L560 929.1 L559.2 925.9 L558.3 922.5 L557.4 919.2 L556.4 916 L555.4 912.9 L554.3 909.7 L553.1 906.6 L551.9 903.4 L550.6 900.3 L549.2 897.1 L547.7 894 L546.2 890.9Z" fill="url(#g36)"/>
</g><g filter="url(#bl)">
<ellipse cx="496.5" cy="768" rx="22" ry="35" transform="rotate(-3 496.5 768)" fill="#8ee414" opacity="1"/>
<ellipse cx="496.5" cy="768" rx="21" ry="32" transform="rotate(-3 496.5 768)" fill="#e4f010" opacity="1"/>
<ellipse cx="496.6" cy="768" rx="20" ry="29.5" transform="rotate(-3 496.6 768)" fill="#f8b010" opacity="1"/>
<ellipse cx="496.8" cy="768" rx="19" ry="27" transform="rotate(-3 496.8 768)" fill="#e81a0e" opacity="1"/>
<ellipse cx="492.2" cy="757.5" rx="2.6" ry="8" transform="rotate(0 492.2 757.5)" fill="#f8b010" opacity="1"/>
<ellipse cx="492.2" cy="757" rx="1.3" ry="5" transform="rotate(0 492.2 757)" fill="#e4f010" opacity="1"/>
<ellipse cx="571.6" cy="564.6" rx="9.6" ry="5.4" transform="rotate(8 571.6 564.6)" fill="#1420c4" opacity="1"/>
</g><g filter="url(#bl2)">
<path d="M485.1 784 L485.6 787.1 L486.2 790.3 L486.8 793.4 L487.5 796.6 L488.3 799.7 L489.1 802.9 L490.1 806 L491.3 809.1 L492.6 812.3 L494 815.4 L495.6 818.6 L497.2 821.7 L498.9 824.9 L500.6 828 L502.3 831.1 L516.9 831.1 L515.1 828 L513.3 824.9 L511.4 821.7 L509.7 818.6 L507.9 815.4 L506.3 812.3 L504.8 809.1 L503.4 806 L502.2 802.9 L501.2 799.7 L500.2 796.6 L499.4 793.4 L498.7 790.3 L498 787.1 L497.4 784Z" fill="url(#g37)"/>
<path d="M492.3 771.2 L492.6 774.4 L493 777.6 L493.5 780.8 L494 784 L494.6 787.1 L495.3 790.3 L496 793.4 L496.8 796.6 L497.7 799.7 L498.7 802.9 L499.8 806 L501.1 809.1 L502.6 812.3 L504.1 815.4 L505.8 818.6 L507.6 821.7 L509.3 824.9 L511.1 828 L512.9 831.1 L514.8 834.3 L516.8 837.4 L518.8 840.6 L520.8 843.7 L522.7 846.9 L524.7 850 L526.6 853.1 L528.5 856.3 L530.4 859.4 L532.3 862.6 L534.2 865.7 L536.1 868.9 L537.9 872 L539.7 875.1 L541.5 878.3 L543.2 881.4 L545 884.6 L546.7 887.7 L548.3 890.9 L549.8 894 L551.2 897.1 L552.6 900.3 L553.8 903.4 L555.1 906.6 L556.2 909.7 L557.3 912.9 L558.3 916 L559.3 919.2 L560.2 922.5 L561.1 925.9 L561.9 929.1 L562.6 932.3 L563.3 935.3 L571.3 935.3 L570.6 932.3 L569.9 929.1 L569.1 925.9 L568.3 922.5 L567.3 919.2 L566.4 916 L565.4 912.9 L564.4 909.7 L563.3 906.6 L562.2 903.4 L561 900.3 L559.8 897.1 L558.4 894 L557 890.9 L555.5 887.7 L554 884.6 L552.4 881.4 L550.7 878.3 L549 875.1 L547.2 872 L545.4 868.9 L543.6 865.7 L541.8 862.6 L539.9 859.4 L538 856.3 L536 853.1 L534.1 850 L532.1 846.9 L530.1 843.7 L528 840.6 L526 837.4 L523.9 834.3 L522 831.1 L520.1 828 L518.2 824.9 L516.3 821.7 L514.5 818.6 L512.7 815.4 L511 812.3 L509.4 809.1 L508 806 L506.8 802.9 L505.6 799.7 L504.6 796.6 L503.8 793.4 L503 790.3 L502.3 787.1 L501.6 784 L501 780.8 L500.5 777.6 L500.1 774.4 L499.7 771.2Z" fill="url(#g38)"/>
<path d="M501 780.8 L501.6 784 L502.3 787.1 L503 790.3 L503.8 793.4 L504.6 796.6 L505.6 799.7 L506.8 802.9 L508 806 L509.4 809.1 L511 812.3 L512.7 815.4 L514.5 818.6 L516.3 821.7 L518.2 824.9 L520.1 828 L522 831.1 L523.9 834.3 L526 837.4 L528 840.6 L530.1 843.7 L532.1 846.9 L546.2 846.9 L544 843.7 L541.9 840.6 L539.7 837.4 L537.6 834.3 L535.5 831.1 L533.5 828 L531.5 824.9 L529.5 821.7 L527.6 818.6 L525.6 815.4 L523.7 812.3 L522 809.1 L520.3 806 L518.9 802.9 L517.6 799.7 L516.5 796.6 L515.5 793.4 L514.5 790.3 L513.7 787.1 L513 784 L512.3 780.8Z" fill="url(#g39)"/>
</g>
<path d="M577.8 558.7 L577.8 560.3 L577.7 562.9 L577.3 567 L577 569.4 L576.6 572.3 L576.2 575.5 L575.7 578.9 L575.2 582.3 L574.5 585.7 L573.7 589 L572.8 592.1 L571.7 595.3 L570.5 598.4 L569.2 601.6 L567.8 604.7 L566.4 607.9 L564.9 611 L563.4 614.1 L561.8 617.3 L560.1 620.4 L558.4 623.6 L556.6 626.7 L554.7 629.9 L552.8 633 L550.9 636.1 L548.9 639.3 L546.8 642.4 L544.8 645.6 L542.7 648.7 L540.6 651.9 L538.5 655 L536.4 658.1 L534.3 661.3 L532.2 664.4 L530.1 667.6 L528 670.7 L526 673.9 L524 677 L522.2 680.1 L520.4 683.3 L518.7 686.4 L517 689.6 L515.5 692.7 L514 695.9 L512.6 699 L511.3 702.1 L510.1 705.3 L509 708.4 L507.9 711.6 L506.9 714.7 L506.1 717.9 L505.3 721 L504.7 724.2 L504.1 727.4 L503.7 730.6 L503.4 733.8 L503.2 736.9 L503 740 L502.8 743 L502.7 746.3 L502.7 749.4 L502.7 752.5 L502.8 755.6 L503 758.7 L503.2 762 L503.4 765 L503.7 768.1 L504 771.2 L504.4 774.4 L504.9 777.6 L505.4 780.8 L506.1 784 L506.8 787.1 L507.5 790.3 L508.3 793.4 L509.3 796.6 L510.3 799.7 L511.5 802.9 L512.8 806 L514.4 809.1 L516 812.3 L517.8 815.4 L519.6 818.6 L521.5 821.7 L523.4 824.9 L525.3 828 L527.3 831.1 L529.3 834.3 L531.4 837.4 L533.5 840.6 L535.6 843.7 L537.6 846.9 L539.6 850 L541.6 853.1 L543.5 856.3 L545.5 859.4 L547.4 862.6 L549.2 865.7 L551 868.9 L552.7 872 L554.4 875.1 L556.1 878.3 L557.7 881.4 L559.3 884.6 L560.8 887.7 L562.2 890.9 L563.5 894 L564.8 897.1 L566 900.3 L567.1 903.4 L568.2 906.6 L569.2 909.7 L570.2 912.9 L571.2 916 L572.1 919.2 L573 922.5 L573.8 925.9 L574.6 929.1 L575.3 932.3 L576 935.3 L576.5 938 L577 941.5 L577.3 944.8 L577.5 947.7 L577.6 950.1 L577.7 951.8 L584.5 951.8 L584.5 950.1 L584.5 947.7 L584.4 944.8 L584.2 941.5 L583.7 938 L583.2 935.3 L582.6 932.3 L581.9 929.1 L581.1 925.9 L580.3 922.5 L579.4 919.2 L578.5 916 L577.6 912.9 L576.7 909.7 L575.7 906.6 L574.7 903.4 L573.7 900.3 L572.6 897.1 L571.4 894 L570.2 890.9 L568.9 887.7 L567.5 884.6 L566 881.4 L564.5 878.3 L562.9 875.1 L561.2 872 L559.5 868.9 L557.8 865.7 L556 862.6 L554.1 859.4 L552.1 856.3 L550.2 853.1 L548.2 850 L546.2 846.9 L544 843.7 L541.9 840.6 L539.7 837.4 L537.6 834.3 L535.5 831.1 L533.5 828 L531.5 824.9 L529.5 821.7 L527.6 818.6 L525.6 815.4 L523.7 812.3 L522 809.1 L520.3 806 L518.9 802.9 L517.6 799.7 L516.5 796.6 L515.5 793.4 L514.5 790.3 L513.7 787.1 L513 784 L512.3 780.8 L511.7 777.6 L511.2 774.4 L510.8 771.2 L510.4 768.1 L510.1 765 L509.8 762 L509.6 758.7 L509.4 755.6 L509.2 752.5 L509.2 749.4 L509.2 746.3 L509.4 743 L509.5 740 L509.8 736.9 L510.1 733.8 L510.5 730.6 L511 727.4 L511.6 724.2 L512.3 721 L513.2 717.9 L514.2 714.7 L515.3 711.6 L516.4 708.4 L517.7 705.3 L519 702.1 L520.5 699 L521.9 695.9 L523.5 692.7 L525.2 689.6 L526.9 686.4 L528.7 683.3 L530.6 680.1 L532.5 677 L534.6 673.9 L536.6 670.7 L538.6 667.6 L540.8 664.4 L542.9 661.3 L545 658.1 L547.1 655 L549.2 651.9 L551.3 648.7 L553.4 645.6 L555.4 642.4 L557.5 639.3 L559.5 636.1 L561.4 633 L563.3 629.9 L565.1 626.7 L566.8 623.6 L568.4 620.4 L570 617.3 L571.5 614.1 L572.9 611 L574.3 607.9 L575.7 604.7 L577 601.6 L578.3 598.4 L579.4 595.3 L580.4 592.1 L581.2 589 L581.9 585.7 L582.4 582.3 L582.9 578.9 L583.2 575.5 L583.5 572.3 L583.8 569.4 L584 567 L584.4 562.9 L584.4 560.3 L584.4 558.7Z" fill="#000" opacity="0.1" filter="url(#bl)"/>
<ellipse cx="570.3" cy="949.6" rx="10.3" ry="2.7" fill="#063a8c"/>
</g>
<g clip-path="url(#c_biii)">
<path d="M771.8 559.7 L771.5 562 L771 564.3 L770.4 567.1 L769.7 570.3 L768.9 573.7 L767.9 577.3 L766.9 580.7 L765.8 584 L764.6 587.1 L763.3 590.3 L761.8 593.4 L760.3 596.6 L758.7 599.7 L757.1 602.9 L755.4 606 L753.6 609.1 L751.8 612.3 L749.8 615.4 L747.9 618.6 L745.9 621.7 L744 624.9 L742 628 L740 631.1 L737.9 634.3 L735.8 637.4 L733.7 640.6 L731.7 643.7 L729.7 646.9 L727.7 650 L725.8 653.1 L724 656.3 L722.2 659.4 L720.5 662.6 L718.9 665.7 L717.3 668.9 L715.8 672 L714.3 675.1 L713 678.3 L711.7 681.4 L710.4 684.6 L709.3 687.7 L708.2 690.9 L707.3 694 L706.4 697.2 L705.5 700.5 L704.7 703.8 L704.1 707.1 L703.4 710.3 L702.9 713.3 L702.5 716 L702.2 719.4 L702 722.3 L702 725 L702.1 727.5 L702.3 730 L702.6 732.9 L703.1 735.6 L703.6 738.2 L704.2 741 L704.9 743.9 L705.7 746.9 L706.4 750 L706.9 753 L707.1 756 L707.1 759.1 L706.9 762.1 L706.5 765 L705.7 767.8 L704.6 770.5 L703.6 773.2 L702.8 776 L702.4 779 L702.2 782 L702.1 785 L702.3 788 L702.5 790.5 L702.8 792.8 L703.4 795.4 L704.4 799 L705.1 801.3 L705.9 803.9 L706.8 806.7 L707.8 809.8 L708.9 812.8 L710 816 L711.1 819 L712.3 822 L713.5 824.9 L714.8 827.8 L716.1 830.6 L717.5 833.5 L718.9 836.4 L720.4 839.2 L721.9 842.1 L723.5 845 L725.1 847.9 L726.7 850.8 L728.5 853.6 L730.3 856.5 L732.1 859.4 L733.9 862.2 L735.6 865.1 L737.3 868 L739 870.9 L740.7 873.8 L742.3 876.6 L744 879.5 L745.6 882.4 L747.2 885.2 L748.8 888.1 L750.3 891 L751.7 893.9 L753.2 896.8 L754.6 899.6 L755.9 902.5 L757.2 905.4 L758.5 908.2 L759.7 911.1 L760.9 914 L762.1 916.9 L763.2 919.9 L764.4 922.9 L765.4 925.9 L766.5 928.9 L767.4 931.7 L768.3 934.4 L769.1 937 L770.2 941 L771.1 944.8 L771.7 948.3 L772.2 950.6 A9.8 2.8 0 0 0 791.8 950.6 L791.7 948.3 L791.6 944.8 L791.2 941 L790.7 937 L790.2 934.4 L789.6 931.7 L788.9 928.9 L788.2 925.9 L787.4 922.9 L786.5 919.9 L785.6 916.9 L784.7 914 L783.8 911.1 L782.8 908.2 L781.8 905.4 L780.7 902.5 L779.6 899.6 L778.4 896.8 L777.2 893.9 L775.9 891 L774.6 888.1 L773.2 885.2 L771.7 882.4 L770.1 879.5 L768.5 876.6 L766.9 873.8 L765.3 870.9 L763.6 868 L762 865.1 L760.3 862.2 L758.6 859.4 L756.8 856.5 L755 853.6 L753.3 850.8 L751.5 847.9 L749.8 845 L748.1 842.1 L746.3 839.2 L744.6 836.4 L742.9 833.5 L741.3 830.6 L739.6 827.8 L738.1 824.9 L736.6 822 L735.1 819 L733.7 816 L732.3 812.8 L731 809.8 L729.8 806.7 L728.7 803.9 L727.7 801.3 L726.9 799 L725.6 795.4 L724.8 792.8 L724.2 790.5 L723.6 788 L722.9 785 L722.2 782 L721.7 779 L721.2 776 L720.9 773.2 L720.7 770.5 L720.5 767.8 L720.3 765 L720.2 762.1 L720.2 759.1 L720.2 756 L720.3 753 L720.4 750 L720.5 746.9 L720.7 743.9 L720.8 741 L720.9 738.2 L721 735.6 L721.1 732.9 L721.4 730 L721.7 727.5 L722.1 725 L722.6 722.3 L723.3 719.4 L724.1 716 L724.9 713.3 L725.7 710.3 L726.6 707.1 L727.7 703.8 L728.7 700.5 L729.9 697.2 L731.1 694 L732.4 690.9 L733.8 687.7 L735.3 684.6 L736.8 681.4 L738.3 678.3 L739.9 675.1 L741.5 672 L743.2 668.9 L744.9 665.7 L746.7 662.6 L748.5 659.4 L750.3 656.3 L752.2 653.1 L754.1 650 L756 646.9 L758.1 643.7 L760.2 640.6 L762.3 637.4 L764.4 634.3 L766.5 631.1 L768.5 628 L770.5 624.9 L772.5 621.7 L774.5 618.6 L776.4 615.4 L778.2 612.3 L779.8 609.1 L781.4 606 L782.8 602.9 L784.1 599.7 L785.4 596.6 L786.6 593.4 L787.7 590.3 L788.6 587.1 L789.4 584 L790.1 580.7 L790.7 577.3 L791.2 573.7 L791.6 570.3 L792 567.1 L792.2 564.3 L792.4 562 L792.5 559.7 A10.4 3.8 0 0 0 771.8 559.7 Z" fill="url(#g40)"/>
<g filter="url(#bl2)">
<path d="M780.5 555.9 L780.7 557.6 L780.3 562 L779.9 564.3 L779.4 567.1 L778.9 570.3 L778.3 573.7 L777.5 577.3 L776.7 580.7 L775.7 584 L774.7 587.1 L773.5 590.3 L772.2 593.4 L770.9 596.6 L769.4 599.7 L767.9 602.9 L766.3 606 L764.6 609.1 L762.9 612.3 L761 615.4 L759.1 618.6 L757.1 621.7 L755.1 624.9 L753.1 628 L751.1 631.1 L749.1 634.3 L747 637.4 L744.8 640.6 L742.8 643.7 L762 643.7 L764.1 640.6 L766.2 637.4 L768.4 634.3 L770.5 631.1 L772.5 628 L774.5 624.9 L776.5 621.7 L778.5 618.6 L780.4 615.4 L782.1 612.3 L783.8 609.1 L785.3 606 L786.6 602.9 L788 599.7 L789.2 596.6 L790.3 593.4 L791.3 590.3 L792.2 587.1 L793 584 L793.6 580.7 L794.1 577.3 L794.6 573.7 L794.9 570.3 L795.2 567.1 L795.4 564.3 L795.6 562 L795.7 557.6 L795.5 555.9Z" fill="url(#g41)"/>
<path d="M737.2 656.3 L735.4 659.4 L733.6 662.6 L731.9 665.7 L730.2 668.9 L728.7 672 L727.1 675.1 L725.6 678.3 L724.2 681.4 L722.9 684.6 L721.6 687.7 L720.3 690.9 L719.2 694 L718.1 697.2 L717.1 700.5 L716.2 703.8 L715.3 707.1 L714.6 710.3 L713.9 713.3 L713.3 716 L712.7 719.4 L712.3 722.3 L712.1 725 L711.9 727.5 L711.9 730 L724.3 730 L724.7 727.5 L725.1 725 L725.7 722.3 L726.4 719.4 L727.4 716 L728.2 713.3 L729.1 710.3 L730 707.1 L731.1 703.8 L732.2 700.5 L733.4 697.2 L734.7 694 L736.1 690.9 L737.5 687.7 L739 684.6 L740.5 681.4 L742.1 678.3 L743.7 675.1 L745.4 672 L747.1 668.9 L748.8 665.7 L750.6 662.6 L752.4 659.4 L754.2 656.3Z" fill="url(#g42)"/>
<path d="M713.2 672 L711.8 675.1 L710.4 678.3 L709.2 681.4 L708 684.6 L706.8 687.7 L705.8 690.9 L704.9 694 L704 697.2 L703.2 700.5 L702.5 703.8 L701.8 707.1 L701.2 710.3 L700.7 713.3 L700.4 716 L700.1 719.4 L700 722.3 L700 725 L700.2 727.5 L708.4 727.5 L708.5 725 L708.6 722.3 L708.9 719.4 L709.4 716 L710 713.3 L710.6 710.3 L711.3 707.1 L712.1 703.8 L712.9 700.5 L713.9 697.2 L714.9 694 L716 690.9 L717.1 687.7 L718.4 684.6 L719.7 681.4 L721.1 678.3 L722.5 675.1 L724 672Z" fill="url(#g43)"/>
<path d="M702.2 799 L702.8 801.3 L703.6 803.9 L704.5 806.7 L705.5 809.8 L706.5 812.8 L707.6 816 L708.7 819 L709.9 822 L711 824.9 L712.3 827.8 L713.6 830.6 L714.9 833.5 L716.3 836.4 L717.8 839.2 L719.3 842.1 L720.8 845 L722.4 847.9 L724.1 850.8 L725.8 853.6 L727.6 856.5 L729.4 859.4 L731.2 862.2 L733 865.1 L734.7 868 L748.4 868 L746.7 865.1 L745 862.2 L743.2 859.4 L741.4 856.5 L739.6 853.6 L737.9 850.8 L736.2 847.9 L734.5 845 L732.9 842.1 L731.3 839.2 L729.7 836.4 L728.2 833.5 L726.7 830.6 L725.2 827.8 L723.8 824.9 L722.5 822 L721.2 819 L719.9 816 L718.7 812.8 L717.6 809.8 L716.5 806.7 L715.5 803.9 L714.6 801.3 L713.8 799Z" fill="url(#g44)"/>
<path d="M719.9 816 L721.2 819 L722.5 822 L723.8 824.9 L725.2 827.8 L726.7 830.6 L728.2 833.5 L729.7 836.4 L731.3 839.2 L732.9 842.1 L734.5 845 L736.2 847.9 L737.9 850.8 L739.6 853.6 L741.4 856.5 L743.2 859.4 L751.1 859.4 L749.4 856.5 L747.6 853.6 L745.9 850.8 L744.1 847.9 L742.4 845 L740.7 842.1 L739.1 839.2 L737.4 836.4 L735.8 833.5 L734.2 830.6 L732.7 827.8 L731.2 824.9 L729.8 822 L728.4 819 L727 816Z" fill="url(#g45)"/>
<path d="M745 853.6 L746.7 856.5 L748.5 859.4 L750.2 862.2 L752 865.1 L753.6 868 L755.3 870.9 L756.9 873.8 L758.6 876.6 L760.2 879.5 L761.8 882.4 L763.3 885.2 L764.8 888.1 L766.2 891 L767.5 893.9 L768.8 896.8 L770.1 899.6 L771.3 902.5 L772.4 905.4 L773.5 908.2 L774.6 911.1 L775.7 914 L776.7 916.9 L777.7 919.9 L778.6 922.9 L779.5 925.9 L780.4 928.9 L781.2 931.7 L781.9 934.4 L782.5 937 L783.2 941 L783.8 944.8 L784.1 948.3 L784.4 951.3 L794.8 951.3 L794.7 948.3 L794.6 944.8 L794.4 941 L793.9 937 L793.5 934.4 L792.9 931.7 L792.3 928.9 L791.6 925.9 L790.8 922.9 L790 919.9 L789.1 916.9 L788.3 914 L787.4 911.1 L786.4 908.2 L785.4 905.4 L784.4 902.5 L783.3 899.6 L782.2 896.8 L781 893.9 L779.8 891 L778.5 888.1 L777.1 885.2 L775.6 882.4 L774.1 879.5 L772.5 876.6 L770.8 873.8 L769.2 870.9 L767.6 868 L765.9 865.1 L764.3 862.2 L762.5 859.4 L760.8 856.5 L759 853.6Z" fill="url(#g46)"/>
<path d="M712.3 738.2 L712.5 741 L712.8 743.9 L713.1 746.9 L713.4 750 L713.6 753 L713.7 756 L722.2 756 L722.3 753 L722.5 750 L722.8 746.9 L723.1 743.9 L723.3 741 L723.5 738.2Z" fill="url(#g47)"/>
<path d="M712.6 770.5 L712.2 773.2 L712 776 L712 779 L712.2 782 L712.5 785 L712.9 788 L713.3 790.5 L713.8 792.8 L714.5 795.4 L728.9 795.4 L728.1 792.8 L727.4 790.5 L726.8 788 L726 785 L725.2 782 L724.6 779 L724 776 L723.5 773.2 L723.1 770.5Z" fill="url(#g48)"/>
</g><g filter="url(#bl)">
</g><g filter="url(#bl2)">
</g>
<path d="M789.1 555.9 L789.3 557.6 L789.1 562 L788.8 564.3 L788.5 567.1 L788.1 570.3 L787.6 573.7 L787.1 577.3 L786.4 580.7 L785.7 584 L784.8 587.1 L783.8 590.3 L782.6 593.4 L781.4 596.6 L780.1 599.7 L778.7 602.9 L777.2 606 L775.6 609.1 L774 612.3 L772.2 615.4 L770.2 618.6 L768.2 621.7 L766.2 624.9 L764.3 628 L762.2 631.1 L760.2 634.3 L758.1 637.4 L755.9 640.6 L753.8 643.7 L751.8 646.9 L749.9 650 L748 653.1 L746.1 656.3 L744.3 659.4 L742.5 662.6 L740.7 665.7 L739.1 668.9 L737.4 672 L735.8 675.1 L734.3 678.3 L732.8 681.4 L731.3 684.6 L729.9 687.7 L728.6 690.9 L727.3 694 L726.1 697.2 L725 700.5 L724 703.8 L723 707.1 L722.2 710.3 L721.4 713.3 L720.7 716 L719.9 719.4 L719.3 722.3 L718.9 725 L718.6 727.5 L718.3 730 L718.1 732.9 L718.1 735.6 L718.1 738.2 L718.2 741 L718.2 743.9 L718.2 746.9 L718.2 750 L718.2 753 L718.1 756 L718.1 759.1 L718.1 762.1 L718.1 765 L718.1 767.8 L718.1 770.5 L718.1 773.2 L718.3 776 L718.6 779 L719 782 L719.6 785 L720.2 788 L720.7 790.5 L721.3 792.8 L722 795.4 L723.3 799 L724.1 801.3 L725.1 803.9 L726.2 806.7 L727.3 809.8 L728.6 812.8 L729.9 816 L731.3 819 L732.7 822 L734.1 824.9 L735.7 827.8 L737.2 830.6 L738.9 833.5 L740.5 836.4 L742.2 839.2 L743.9 842.1 L745.6 845 L747.3 847.9 L749 850.8 L750.8 853.6 L752.6 856.5 L754.3 859.4 L756.1 862.2 L757.8 865.1 L759.4 868 L761.1 870.9 L762.7 873.8 L764.4 876.6 L766 879.5 L767.5 882.4 L769 885.2 L770.5 888.1 L771.8 891 L773.1 893.9 L774.4 896.8 L775.6 899.6 L776.7 902.5 L777.8 905.4 L778.9 908.2 L779.9 911.1 L780.9 914 L781.9 916.9 L782.8 919.9 L783.7 922.9 L784.5 925.9 L785.3 928.9 L786.1 931.7 L786.7 934.4 L787.2 937 L787.9 941 L788.3 944.8 L788.5 948.3 L788.7 951.3 L788.9 953.4 L794.8 953.4 L794.8 951.3 L794.7 948.3 L794.6 944.8 L794.4 941 L793.9 937 L793.5 934.4 L792.9 931.7 L792.3 928.9 L791.6 925.9 L790.8 922.9 L790 919.9 L789.1 916.9 L788.3 914 L787.4 911.1 L786.4 908.2 L785.4 905.4 L784.4 902.5 L783.3 899.6 L782.2 896.8 L781 893.9 L779.8 891 L778.5 888.1 L777.1 885.2 L775.6 882.4 L774.1 879.5 L772.5 876.6 L770.8 873.8 L769.2 870.9 L767.6 868 L765.9 865.1 L764.3 862.2 L762.5 859.4 L760.8 856.5 L759 853.6 L757.3 850.8 L755.5 847.9 L753.7 845 L752 842.1 L750.2 839.2 L748.5 836.4 L746.8 833.5 L745.1 830.6 L743.4 827.8 L741.7 824.9 L740.2 822 L738.7 819 L737.2 816 L735.9 812.8 L734.5 809.8 L733.3 806.7 L732.2 803.9 L731.1 801.3 L730.2 799 L728.9 795.4 L728.1 792.8 L727.4 790.5 L726.8 788 L726 785 L725.2 782 L724.6 779 L724 776 L723.5 773.2 L723.1 770.5 L722.7 767.8 L722.4 765 L722.2 762.1 L722.2 759.1 L722.2 756 L722.3 753 L722.5 750 L722.8 746.9 L723.1 743.9 L723.3 741 L723.5 738.2 L723.7 735.6 L723.9 732.9 L724.3 730 L724.7 727.5 L725.1 725 L725.7 722.3 L726.4 719.4 L727.4 716 L728.2 713.3 L729.1 710.3 L730 707.1 L731.1 703.8 L732.2 700.5 L733.4 697.2 L734.7 694 L736.1 690.9 L737.5 687.7 L739 684.6 L740.5 681.4 L742.1 678.3 L743.7 675.1 L745.4 672 L747.1 668.9 L748.8 665.7 L750.6 662.6 L752.4 659.4 L754.2 656.3 L756.1 653.1 L758 650 L760 646.9 L762 643.7 L764.1 640.6 L766.2 637.4 L768.4 634.3 L770.5 631.1 L772.5 628 L774.5 624.9 L776.5 621.7 L778.5 618.6 L780.4 615.4 L782.1 612.3 L783.8 609.1 L785.3 606 L786.6 602.9 L788 599.7 L789.2 596.6 L790.3 593.4 L791.3 590.3 L792.2 587.1 L793 584 L793.6 580.7 L794.1 577.3 L794.6 573.7 L794.9 570.3 L795.2 567.1 L795.4 564.3 L795.6 562 L795.7 557.6 L795.5 555.9Z" fill="#000" opacity="0.1" filter="url(#bl)"/>
<ellipse cx="782.3" cy="951" rx="9.5" ry="2.6" fill="#0630a0"/>
</g>
<g opacity="0.999">
<text x="128.3" y="140.8" text-anchor="end" font-size="21.7" class="s">49.87</text>
<text x="128.3" y="167.9" text-anchor="end" font-size="21.7" class="s">45.71</text>
<text x="128.3" y="194.4" text-anchor="end" font-size="21.7" class="s">41.55</text>
<text x="128.3" y="221.1" text-anchor="end" font-size="21.7" class="s">37.40</text>
<text x="128.3" y="248.2" text-anchor="end" font-size="21.7" class="s">33.24</text>
<text x="128.3" y="274.9" text-anchor="end" font-size="21.7" class="s">29.09</text>
<text x="128.3" y="301.2" text-anchor="end" font-size="21.7" class="s">24.93</text>
<text x="128.3" y="328.3" text-anchor="end" font-size="21.7" class="s">20.78</text>
<text x="128.3" y="354.7" text-anchor="end" font-size="21.7" class="s">16.62</text>
<text x="128.3" y="381.6" text-anchor="end" font-size="21.7" class="s">12.47</text>
<text x="128.3" y="407.7" text-anchor="end" font-size="21.7" class="s">8.31</text>
<text x="128.3" y="434.8" text-anchor="end" font-size="21.7" class="s">4.16</text>
<text x="128.3" y="460.7" text-anchor="end" font-size="21.7" class="s">0.00</text>
<g class="SIGMAG" transform="translate(30.3 110.4)"><path fill-rule="evenodd" fill="#111" d="M13.88 -9.83 L14.23 -8.60 L14.23 -7.28 L13.89 -5.94 L13.21 -4.65 L12.24 -3.48 L11.02 -2.47 L9.62 -1.69 L8.10 -1.17 L6.53 -0.94 L5.01 -1.00 L3.60 -1.36 L2.38 -2.00 L1.40 -2.89 L0.72 -3.97 L0.37 -5.20 L0.37 -6.52 L0.71 -7.86 L1.39 -9.15 L2.36 -10.32 L3.58 -11.33 L4.98 -12.11 L6.50 -12.63 L8.07 -12.86 L9.59 -12.80 L11.00 -12.44 L12.22 -11.80 L13.20 -10.91ZM12.36 -10.13 L11.83 -10.71 L11.10 -11.13 L10.22 -11.34 L9.23 -11.36 L8.17 -11.17 L7.11 -10.79 L6.09 -10.24 L5.17 -9.53 L4.39 -8.72 L3.79 -7.83 L3.40 -6.92 L3.24 -6.02 L3.32 -5.19 L3.64 -4.47 L4.17 -3.89 L4.90 -3.47 L5.78 -3.26 L6.77 -3.24 L7.83 -3.43 L8.89 -3.81 L9.91 -4.36 L10.83 -5.07 L11.61 -5.88 L12.21 -6.77 L12.60 -7.68 L12.76 -8.58 L12.68 -9.41ZM6.0 -13.3 L17.7 -13.6 L17.3 -11.4 L10.5 -11.2 Z"/></g>
<text x="48.2" y="116.9" font-size="14.8" class="s">m</text>
<text x="74.2" y="111.2" font-size="21.8" class="s">(MPa)</text>
<text x="19.6" y="65.8" font-size="34.6" font-weight="bold" class="s">(a)</text>
<text x="132" y="619.9" text-anchor="end" font-size="21.7" class="s">49.99</text>
<text x="132" y="647.3" text-anchor="end" font-size="21.7" class="s">45.82</text>
<text x="132" y="674.4" text-anchor="end" font-size="21.7" class="s">41.66</text>
<text x="132" y="701.7" text-anchor="end" font-size="21.7" class="s">37.49</text>
<text x="132" y="728.6" text-anchor="end" font-size="21.7" class="s">33.33</text>
<text x="132" y="755.7" text-anchor="end" font-size="21.7" class="s">29.16</text>
<text x="132" y="783" text-anchor="end" font-size="21.7" class="s">24.99</text>
<text x="132" y="810.1" text-anchor="end" font-size="21.7" class="s">20.83</text>
<text x="132" y="837.2" text-anchor="end" font-size="21.7" class="s">16.66</text>
<text x="132" y="864.3" text-anchor="end" font-size="21.7" class="s">12.50</text>
<text x="132" y="889.5" text-anchor="end" font-size="21.7" class="s">8.33</text>
<text x="132" y="915.4" text-anchor="end" font-size="21.7" class="s">4.17</text>
<text x="132" y="940.1" text-anchor="end" font-size="21.7" class="s">0.00</text>
<g class="SIGMAG" transform="translate(30 592)"><path fill-rule="evenodd" fill="#111" d="M13.88 -9.83 L14.23 -8.60 L14.23 -7.28 L13.89 -5.94 L13.21 -4.65 L12.24 -3.48 L11.02 -2.47 L9.62 -1.69 L8.10 -1.17 L6.53 -0.94 L5.01 -1.00 L3.60 -1.36 L2.38 -2.00 L1.40 -2.89 L0.72 -3.97 L0.37 -5.20 L0.37 -6.52 L0.71 -7.86 L1.39 -9.15 L2.36 -10.32 L3.58 -11.33 L4.98 -12.11 L6.50 -12.63 L8.07 -12.86 L9.59 -12.80 L11.00 -12.44 L12.22 -11.80 L13.20 -10.91ZM12.36 -10.13 L11.83 -10.71 L11.10 -11.13 L10.22 -11.34 L9.23 -11.36 L8.17 -11.17 L7.11 -10.79 L6.09 -10.24 L5.17 -9.53 L4.39 -8.72 L3.79 -7.83 L3.40 -6.92 L3.24 -6.02 L3.32 -5.19 L3.64 -4.47 L4.17 -3.89 L4.90 -3.47 L5.78 -3.26 L6.77 -3.24 L7.83 -3.43 L8.89 -3.81 L9.91 -4.36 L10.83 -5.07 L11.61 -5.88 L12.21 -6.77 L12.60 -7.68 L12.76 -8.58 L12.68 -9.41ZM6.0 -13.3 L17.7 -13.6 L17.3 -11.4 L10.5 -11.2 Z"/></g>
<text x="48.4" y="598.5" font-size="14.8" class="s">m</text>
<text x="78" y="592.8" font-size="21.8" class="s">(MPa)</text>
<text x="18.4" y="555.9" font-size="34.6" font-weight="bold" class="s">(b)</text>
<text x="175" y="56.6" font-size="28.4" class="s">(i)</text>
<text x="406" y="51.4" font-size="28.4" class="s">(ii)</text>
<text x="639.7" y="37.6" font-size="28.4" class="s">(iii)</text>
<text x="175" y="557.5" font-size="28.4" class="s">(i)</text>
<text x="406.4" y="552" font-size="28.4" class="s">(ii)</text>
<text x="640.6" y="545.7" font-size="28.4" class="s">(iii)</text>
</g>
</svg></body></html>
